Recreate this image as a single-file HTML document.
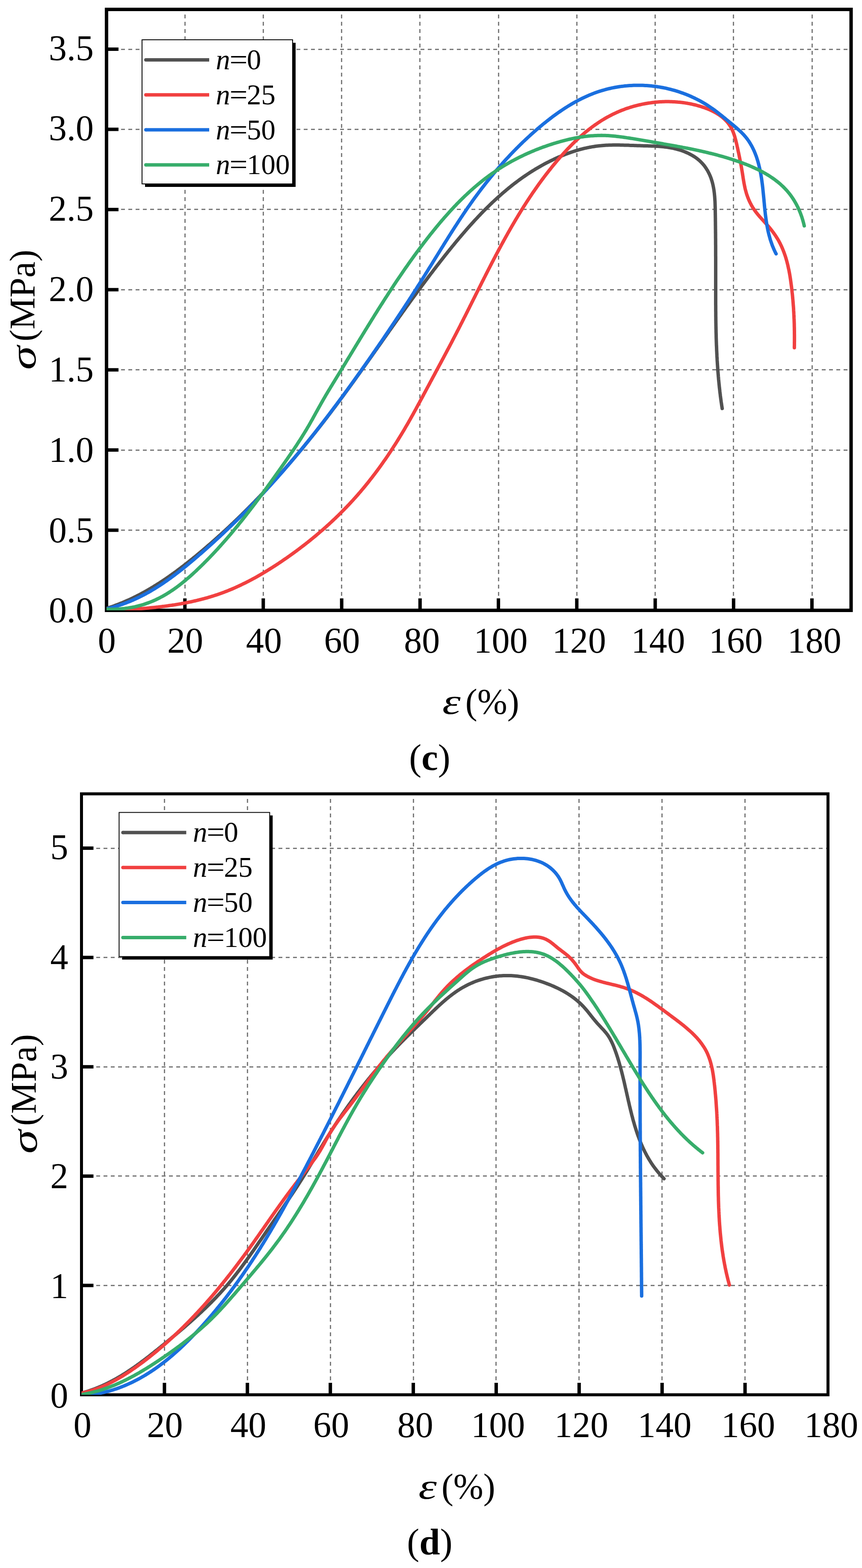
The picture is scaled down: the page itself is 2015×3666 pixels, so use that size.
<!DOCTYPE html>
<html><head><meta charset="utf-8"><title>Stress-strain curves (c) and (d)</title>
<style>html,body{margin:0;padding:0;background:#fff;}svg{display:block;}</style></head>
<body><svg width="2015" height="3666" viewBox="0 0 2015 3666">
<rect width="2015" height="3666" fill="#fff"/>
<g stroke="#7b7b7b" stroke-width="3" stroke-dasharray="9.1 7.99" fill="none" shape-rendering="crispEdges"><line x1="432.2" y1="1427.0" x2="432.2" y2="26.0"/><line x1="615.4" y1="1427.0" x2="615.4" y2="26.0"/><line x1="798.7" y1="1427.0" x2="798.7" y2="26.0"/><line x1="981.9" y1="1427.0" x2="981.9" y2="26.0"/><line x1="1165.1" y1="1427.0" x2="1165.1" y2="26.0"/><line x1="1348.3" y1="1427.0" x2="1348.3" y2="26.0"/><line x1="1531.6" y1="1427.0" x2="1531.6" y2="26.0"/><line x1="1714.8" y1="1427.0" x2="1714.8" y2="26.0"/><line x1="1898.0" y1="1427.0" x2="1898.0" y2="26.0"/></g>
<g stroke="#7b7b7b" stroke-width="3" stroke-dasharray="9.1 7.96" fill="none" shape-rendering="crispEdges"><line x1="249.0" y1="1239.6" x2="1985.5" y2="1239.6"/><line x1="249.0" y1="1052.1" x2="1985.5" y2="1052.1"/><line x1="249.0" y1="864.7" x2="1985.5" y2="864.7"/><line x1="249.0" y1="677.3" x2="1985.5" y2="677.3"/><line x1="249.0" y1="489.9" x2="1985.5" y2="489.9"/><line x1="249.0" y1="302.4" x2="1985.5" y2="302.4"/><line x1="249.0" y1="115.0" x2="1985.5" y2="115.0"/></g>
<rect x="249.0" y="22.0" width="1740.5" height="1405.0" fill="none" stroke="#000" stroke-width="8.0"/>
<g stroke="#000" stroke-width="8"><line x1="432.2" y1="1427.0" x2="432.2" y2="1399.0"/><line x1="615.4" y1="1427.0" x2="615.4" y2="1399.0"/><line x1="798.7" y1="1427.0" x2="798.7" y2="1399.0"/><line x1="981.9" y1="1427.0" x2="981.9" y2="1399.0"/><line x1="1165.1" y1="1427.0" x2="1165.1" y2="1399.0"/><line x1="1348.3" y1="1427.0" x2="1348.3" y2="1399.0"/><line x1="1531.6" y1="1427.0" x2="1531.6" y2="1399.0"/><line x1="1714.8" y1="1427.0" x2="1714.8" y2="1399.0"/><line x1="1898.0" y1="1427.0" x2="1898.0" y2="1399.0"/><line x1="249.0" y1="1239.6" x2="277.0" y2="1239.6"/><line x1="249.0" y1="1052.1" x2="277.0" y2="1052.1"/><line x1="249.0" y1="864.7" x2="277.0" y2="864.7"/><line x1="249.0" y1="677.3" x2="277.0" y2="677.3"/><line x1="249.0" y1="489.9" x2="277.0" y2="489.9"/><line x1="249.0" y1="302.4" x2="277.0" y2="302.4"/><line x1="249.0" y1="115.0" x2="277.0" y2="115.0"/></g>
<clipPath id="clipc"><rect x="249.0" y="22.0" width="1740.5" height="1405.0"/></clipPath>
<g clip-path="url(#clipc)" fill="none" stroke-width="8.0" stroke-linejoin="round" stroke-linecap="round">
<path d="M249.1,1422.4 252.0,1421.5 254.8,1420.6 257.7,1419.6 260.5,1418.7 263.4,1417.7 266.2,1416.7 269.0,1415.6 271.8,1414.6 274.7,1413.5 277.5,1412.4 280.3,1411.3 283.0,1410.2 285.8,1409.1 288.6,1407.9 291.4,1406.7 294.1,1405.5 296.9,1404.3 299.6,1403.1 302.4,1401.8 305.1,1400.6 307.8,1399.3 310.5,1398.0 313.2,1396.7 315.9,1395.3 318.6,1394.0 321.3,1392.6 324.0,1391.3 326.6,1389.9 329.3,1388.5 331.9,1387.0 334.6,1385.6 337.2,1384.2 339.8,1382.7 342.5,1381.2 345.1,1379.7 347.7,1378.2 350.3,1376.7 352.9,1375.2 355.4,1373.6 358.0,1372.1 360.6,1370.5 363.1,1368.9 365.7,1367.3 368.2,1365.7 370.8,1364.1 373.3,1362.5 375.8,1360.8 378.3,1359.2 380.8,1357.5 383.3,1355.9 385.8,1354.2 388.3,1352.5 390.8,1350.8 393.3,1349.1 395.7,1347.4 398.2,1345.6 400.6,1343.9 403.1,1342.1 405.5,1340.4 408.0,1338.6 410.4,1336.9 412.8,1335.1 415.2,1333.3 417.6,1331.5 420.0,1329.7 422.4,1327.9 424.8,1326.0 427.2,1324.2 429.6,1322.4 432.0,1320.5 434.3,1318.7 436.7,1316.8 439.1,1315.0 441.4,1313.1 443.8,1311.2 446.1,1309.3 448.5,1307.5 450.8,1305.6 453.1,1303.7 455.5,1301.8 457.8,1299.9 460.1,1297.9 462.4,1296.0 464.7,1294.1 467.1,1292.2 469.4,1290.2 471.7,1288.3 474.0,1286.4 476.2,1284.4 478.5,1282.5 480.8,1280.5 483.1,1278.6 485.4,1276.6 487.7,1274.6 489.9,1272.7 492.2,1270.7 494.5,1268.7 496.7,1266.7 499.0,1264.7 501.2,1262.8 503.5,1260.8 505.7,1258.8 508.0,1256.8 510.2,1254.7 512.4,1252.7 514.7,1250.7 516.9,1248.7 519.1,1246.7 521.3,1244.6 523.6,1242.6 525.8,1240.6 528.0,1238.5 530.2,1236.5 532.4,1234.4 534.6,1232.4 536.8,1230.3 539.0,1228.3 541.1,1226.2 543.3,1224.1 545.5,1222.1 547.7,1220.0 549.9,1217.9 552.0,1215.8 554.2,1213.7 556.4,1211.7 558.5,1209.6 560.7,1207.5 562.8,1205.4 565.0,1203.3 567.1,1201.1 569.2,1199.0 571.4,1196.9 573.5,1194.8 575.6,1192.7 577.8,1190.5 579.9,1188.4 582.0,1186.3 584.1,1184.1 586.2,1182.0 588.3,1179.9 590.5,1177.7 592.6,1175.6 594.7,1173.4 596.7,1171.3 598.8,1169.1 600.9,1166.9 603.0,1164.8 605.1,1162.6 607.2,1160.4 609.2,1158.2 611.3,1156.1 613.4,1153.9 615.4,1151.7 617.5,1149.5 619.6,1147.3 621.6,1145.1 623.7,1142.9 625.7,1140.7 627.8,1138.5 629.8,1136.3 631.8,1134.1 633.9,1131.9 635.9,1129.7 637.9,1127.4 640.0,1125.2 642.0,1123.0 644.0,1120.8 646.0,1118.5 648.0,1116.3 650.0,1114.0 652.0,1111.8 654.0,1109.6 656.0,1107.3 658.0,1105.1 660.0,1102.8 662.0,1100.6 664.0,1098.3 666.0,1096.0 667.9,1093.8 669.9,1091.5 671.9,1089.2 673.9,1087.0 675.8,1084.7 677.8,1082.4 679.8,1080.1 681.7,1077.8 683.7,1075.6 685.6,1073.3 687.6,1071.0 689.5,1068.7 691.4,1066.4 693.4,1064.1 695.3,1061.8 697.3,1059.5 699.2,1057.2 701.1,1054.9 703.0,1052.6 705.0,1050.3 706.9,1047.9 708.8,1045.6 710.7,1043.3 712.6,1041.0 714.5,1038.6 716.4,1036.3 718.3,1034.0 720.2,1031.7 722.1,1029.3 724.0,1027.0 725.9,1024.6 727.8,1022.3 729.7,1020.0 731.5,1017.6 733.4,1015.3 735.3,1012.9 737.2,1010.6 739.0,1008.2 740.9,1005.8 742.8,1003.5 744.6,1001.1 746.5,998.8 748.3,996.4 750.2,994.0 752.0,991.6 753.9,989.3 755.7,986.9 757.6,984.5 759.4,982.1 761.2,979.8 763.1,977.4 764.9,975.0 766.7,972.6 768.5,970.2 770.4,967.8 772.2,965.4 774.0,963.0 775.8,960.6 777.6,958.2 779.4,955.8 781.2,953.4 783.1,951.0 784.9,948.6 786.7,946.2 788.5,943.8 790.2,941.4 792.0,939.0 793.8,936.6 795.6,934.1 797.4,931.7 799.2,929.3 801.0,926.9 802.8,924.5 804.5,922.0 806.3,919.6 808.1,917.2 809.9,914.8 811.6,912.3 813.4,909.9 815.2,907.5 816.9,905.0 818.7,902.6 820.5,900.2 822.2,897.7 824.0,895.3 825.8,892.9 827.5,890.4 829.3,888.0 831.0,885.5 832.8,883.1 834.5,880.6 836.3,878.2 838.0,875.8 839.8,873.3 841.5,870.9 843.3,868.4 845.0,866.0 846.8,863.5 848.5,861.1 850.2,858.6 852.0,856.2 853.7,853.7 855.5,851.3 857.2,848.8 858.9,846.4 860.7,843.9 862.4,841.4 864.2,839.0 865.9,836.5 867.6,834.1 869.4,831.6 871.1,829.2 872.8,826.7 874.6,824.3 876.3,821.8 878.0,819.3 879.8,816.9 881.5,814.4 883.2,812.0 885.0,809.5 886.7,807.1 888.4,804.6 890.2,802.1 891.9,799.7 893.6,797.2 895.3,794.8 897.1,792.3 898.8,789.8 900.5,787.4 902.3,784.9 904.0,782.5 905.7,780.0 907.5,777.6 909.2,775.1 910.9,772.6 912.7,770.2 914.4,767.7 916.2,765.3 917.9,762.8 919.6,760.4 921.4,757.9 923.1,755.5 924.8,753.0 926.6,750.6 928.3,748.1 930.1,745.7 931.8,743.2 933.5,740.8 935.3,738.3 937.0,735.9 938.8,733.4 940.5,731.0 942.3,728.5 944.0,726.1 945.8,723.6 947.5,721.2 949.3,718.7 951.0,716.3 952.8,713.9 954.6,711.4 956.3,709.0 958.1,706.5 959.8,704.1 961.6,701.7 963.4,699.2 965.1,696.8 966.9,694.4 968.7,691.9 970.5,689.5 972.2,687.1 974.0,684.7 975.8,682.2 977.6,679.8 979.3,677.4 981.1,675.0 982.9,672.6 984.7,670.1 986.5,667.7 988.3,665.3 990.1,662.9 991.9,660.5 993.7,658.1 995.5,655.7 997.3,653.3 999.1,650.9 1000.9,648.4 1002.7,646.0 1004.5,643.6 1006.3,641.2 1008.1,638.9 1010.0,636.5 1011.8,634.1 1013.6,631.7 1015.4,629.3 1017.3,626.9 1019.1,624.5 1020.9,622.1 1022.8,619.8 1024.6,617.4 1026.5,615.0 1028.3,612.6 1030.2,610.3 1032.0,607.9 1033.9,605.5 1035.7,603.2 1037.6,600.8 1039.4,598.5 1041.3,596.1 1043.2,593.7 1045.1,591.4 1046.9,589.0 1048.8,586.7 1050.7,584.4 1052.6,582.0 1054.5,579.7 1056.4,577.3 1058.3,575.0 1060.2,572.7 1062.1,570.4 1064.0,568.0 1065.9,565.7 1067.8,563.4 1069.8,561.1 1071.7,558.8 1073.6,556.5 1075.6,554.2 1077.5,551.9 1079.4,549.6 1081.4,547.3 1083.4,545.0 1085.3,542.8 1087.3,540.5 1089.3,538.2 1091.2,535.9 1093.2,533.7 1095.2,531.4 1097.2,529.2 1099.2,526.9 1101.2,524.7 1103.2,522.5 1105.3,520.2 1107.3,518.0 1109.3,515.8 1111.4,513.6 1113.4,511.4 1115.5,509.2 1117.5,507.0 1119.6,504.8 1121.7,502.7 1123.7,500.5 1125.8,498.3 1127.9,496.2 1130.0,494.0 1132.1,491.9 1134.3,489.7 1136.4,487.6 1138.5,485.5 1140.7,483.4 1142.8,481.3 1145.0,479.2 1147.1,477.1 1149.3,475.0 1151.5,472.9 1153.7,470.9 1155.9,468.8 1158.1,466.8 1160.3,464.7 1162.5,462.7 1164.7,460.7 1167.0,458.7 1169.2,456.7 1171.5,454.7 1173.7,452.7 1176.0,450.8 1178.3,448.8 1180.6,446.9 1182.9,444.9 1185.2,443.0 1187.5,441.1 1189.8,439.2 1192.2,437.3 1194.5,435.4 1196.9,433.5 1199.2,431.7 1201.6,429.8 1204.0,428.0 1206.4,426.2 1208.8,424.4 1211.2,422.6 1213.6,420.8 1216.1,419.0 1218.5,417.3 1221.0,415.5 1223.4,413.8 1225.9,412.1 1228.4,410.4 1230.9,408.7 1233.4,407.0 1235.9,405.4 1238.4,403.7 1240.9,402.1 1243.5,400.5 1246.0,398.9 1248.6,397.3 1251.1,395.8 1253.7,394.2 1256.3,392.7 1258.9,391.2 1261.5,389.7 1264.1,388.2 1266.7,386.7 1269.4,385.3 1272.0,383.8 1274.7,382.4 1277.3,381.0 1280.0,379.6 1282.7,378.3 1285.4,376.9 1288.1,375.6 1290.8,374.3 1293.5,373.0 1296.2,371.7 1298.9,370.5 1301.7,369.2 1304.4,368.0 1307.2,366.8 1310.0,365.6 1312.7,364.5 1315.5,363.3 1318.3,362.2 1321.1,361.1 1323.9,360.0 1326.7,359.0 1329.5,357.9 1332.4,356.9 1335.2,355.9 1338.1,355.0 1340.9,354.0 1343.8,353.1 1346.7,352.2 1349.5,351.4 1352.4,350.5 1355.3,349.7 1358.2,348.9 1361.1,348.2 1364.0,347.4 1367.0,346.7 1369.9,346.1 1372.8,345.4 1375.8,344.8 1378.7,344.2 1381.7,343.7 1384.6,343.1 1387.6,342.7 1390.6,342.2 1393.6,341.8 1396.5,341.4 1399.5,341.1 1402.5,340.7 1405.5,340.5 1408.5,340.2 1411.5,340.0 1414.5,339.8 1417.5,339.6 1420.5,339.5 1423.5,339.3 1426.5,339.2 1429.5,339.2 1432.5,339.1 1435.5,339.1 1438.6,339.1 1441.6,339.1 1444.6,339.1 1447.6,339.1 1450.6,339.2 1453.6,339.2 1456.6,339.3 1459.6,339.4 1462.6,339.4 1465.6,339.5 1468.6,339.6 1471.6,339.8 1474.6,339.9 1477.6,340.0 1480.6,340.1 1483.6,340.2 1486.6,340.3 1489.6,340.4 1492.7,340.5 1495.7,340.6 1498.7,340.7 1501.7,340.8 1504.7,340.9 1507.7,341.0 1510.7,341.1 1513.7,341.1 1516.7,341.2 1519.7,341.3 1522.7,341.4 1525.7,341.5 1528.7,341.6 1531.7,341.8 1534.7,341.9 1537.7,342.1 1540.7,342.3 1543.7,342.5 1546.7,342.8 1549.7,343.0 1552.7,343.4 1555.7,343.7 1558.7,344.1 1561.6,344.5 1564.6,345.0 1567.6,345.5 1570.5,346.1 1573.5,346.7 1576.4,347.3 1579.3,348.0 1582.3,348.8 1585.1,349.6 1588.0,350.4 1590.9,351.3 1593.8,352.3 1596.6,353.3 1599.4,354.4 1602.2,355.5 1605.0,356.7 1607.7,357.9 1610.4,359.2 1613.1,360.6 1615.7,362.0 1618.4,363.5 1620.9,365.0 1623.5,366.6 1625.9,368.3 1628.4,370.1 1630.8,371.9 1633.1,373.8 1635.4,375.8 1637.6,377.9 1639.7,380.0 1641.8,382.2 1643.7,384.4 1645.7,386.7 1647.5,389.1 1649.2,391.6 1650.9,394.1 1652.5,396.6 1654.1,399.2 1655.5,401.8 1656.9,404.5 1658.2,407.2 1659.4,409.9 1660.6,412.7 1661.7,415.5 1662.7,418.4 1663.6,421.2 1664.5,424.1 1665.3,427.0 1666.0,429.9 1666.7,432.8 1667.3,435.8 1667.9,438.7 1668.4,441.7 1668.9,444.7 1669.3,447.6 1669.7,450.6 1670.0,453.6 1670.3,456.6 1670.6,459.6 1670.8,462.6 1671.0,465.6 1671.2,468.6 1671.4,471.6 1671.5,474.6 1671.6,477.6 1671.7,480.6 1671.8,483.6 1671.9,486.6 1671.9,489.6 1672.0,492.6 1672.0,495.6 1672.1,498.6 1672.1,501.7 1672.2,504.7 1672.2,507.7 1672.3,510.7 1672.3,513.7 1672.3,516.7 1672.4,519.7 1672.4,522.7 1672.4,525.7 1672.5,528.7 1672.5,531.7 1672.5,534.7 1672.6,537.7 1672.6,540.7 1672.6,543.7 1672.7,546.8 1672.7,549.8 1672.7,552.8 1672.7,555.8 1672.8,558.8 1672.8,561.8 1672.8,564.8 1672.8,567.8 1672.8,570.8 1672.9,573.8 1672.9,576.8 1672.9,579.8 1672.9,582.8 1672.9,585.8 1672.9,588.8 1672.9,591.9 1672.9,594.9 1672.9,597.9 1673.0,600.9 1673.0,603.9 1673.0,606.9 1673.0,609.9 1673.0,612.9 1673.0,615.9 1673.0,618.9 1673.0,621.9 1673.0,624.9 1673.0,627.9 1673.0,630.9 1673.0,633.9 1673.0,637.0 1673.0,640.0 1673.0,643.0 1673.0,646.0 1673.0,649.0 1673.0,652.0 1673.0,655.0 1673.0,658.0 1673.0,661.0 1673.0,664.0 1673.0,667.0 1673.0,670.0 1673.0,673.0 1673.0,676.0 1673.0,679.1 1673.0,682.1 1673.0,685.1 1673.0,688.1 1673.0,691.1 1673.0,694.1 1673.0,697.1 1673.0,700.1 1673.0,703.1 1673.0,706.1 1673.0,709.1 1673.0,712.1 1673.1,715.1 1673.1,718.1 1673.1,721.1 1673.1,724.2 1673.1,727.2 1673.2,730.2 1673.2,733.2 1673.2,736.2 1673.2,739.2 1673.3,742.2 1673.3,745.2 1673.3,748.2 1673.4,751.2 1673.4,754.2 1673.5,757.2 1673.5,760.2 1673.6,763.2 1673.6,766.2 1673.7,769.3 1673.8,772.3 1673.8,775.3 1673.9,778.3 1674.0,781.3 1674.1,784.3 1674.1,787.3 1674.2,790.3 1674.3,793.3 1674.4,796.3 1674.5,799.3 1674.6,802.3 1674.7,805.3 1674.8,808.3 1675.0,811.3 1675.1,814.3 1675.2,817.3 1675.3,820.3 1675.5,823.3 1675.6,826.3 1675.8,829.4 1675.9,832.4 1676.1,835.4 1676.3,838.4 1676.4,841.4 1676.6,844.4 1676.8,847.4 1677.0,850.4 1677.2,853.4 1677.4,856.4 1677.6,859.4 1677.8,862.4 1678.0,865.4 1678.2,868.4 1678.5,871.4 1678.7,874.4 1679.0,877.4 1679.2,880.3 1679.5,883.3 1679.7,886.3 1680.0,889.3 1680.3,892.3 1680.6,895.3 1680.9,898.3 1681.2,901.3 1681.5,904.3 1681.8,907.3 1682.2,910.3 1682.5,913.3 1682.8,916.2 1683.2,919.2 1683.6,922.2 1683.9,925.2 1684.3,928.2 1684.7,931.2 1685.1,934.1 1685.5,937.1 1685.9,940.1 1686.4,943.1 1686.8,946.1 1687.2,949.0 1687.7,952.0 1688.2,955.0" stroke="#515151"/>
<path d="M249.3,1427.8 252.3,1427.6 255.3,1427.5 258.3,1427.4 261.3,1427.2 264.3,1427.1 267.3,1426.9 270.3,1426.8 273.3,1426.6 276.3,1426.5 279.3,1426.3 282.3,1426.2 285.3,1426.0 288.3,1425.8 291.3,1425.7 294.3,1425.5 297.3,1425.3 300.3,1425.1 303.3,1424.9 306.3,1424.7 309.3,1424.5 312.3,1424.3 315.3,1424.1 318.3,1423.9 321.3,1423.7 324.3,1423.5 327.3,1423.2 330.3,1423.0 333.3,1422.8 336.3,1422.5 339.3,1422.2 342.3,1422.0 345.3,1421.7 348.3,1421.4 351.3,1421.1 354.3,1420.8 357.3,1420.5 360.3,1420.2 363.2,1419.9 366.2,1419.6 369.2,1419.3 372.2,1418.9 375.2,1418.6 378.2,1418.2 381.2,1417.8 384.1,1417.5 387.1,1417.1 390.1,1416.7 393.1,1416.3 396.1,1415.8 399.0,1415.4 402.0,1415.0 405.0,1414.5 408.0,1414.1 410.9,1413.6 413.9,1413.1 416.9,1412.6 419.8,1412.1 422.8,1411.6 425.7,1411.0 428.7,1410.5 431.6,1409.9 434.6,1409.4 437.5,1408.8 440.5,1408.2 443.4,1407.6 446.4,1407.0 449.3,1406.3 452.2,1405.7 455.2,1405.0 458.1,1404.3 461.0,1403.7 464.0,1402.9 466.9,1402.2 469.8,1401.5 472.7,1400.7 475.6,1400.0 478.5,1399.2 481.4,1398.4 484.3,1397.6 487.2,1396.7 490.1,1395.9 492.9,1395.0 495.8,1394.1 498.7,1393.2 501.6,1392.3 504.4,1391.4 507.3,1390.5 510.1,1389.5 512.9,1388.5 515.8,1387.5 518.6,1386.5 521.4,1385.4 524.2,1384.4 527.0,1383.3 529.9,1382.2 532.6,1381.1 535.4,1380.0 538.2,1378.8 541.0,1377.7 543.8,1376.5 546.5,1375.3 549.3,1374.1 552.0,1372.9 554.7,1371.6 557.5,1370.4 560.2,1369.1 562.9,1367.8 565.6,1366.5 568.3,1365.2 571.0,1363.9 573.7,1362.6 576.4,1361.2 579.1,1359.8 581.8,1358.5 584.4,1357.1 587.1,1355.7 589.7,1354.3 592.4,1352.8 595.0,1351.4 597.7,1349.9 600.3,1348.5 602.9,1347.0 605.5,1345.5 608.1,1344.0 610.7,1342.5 613.3,1341.0 615.9,1339.4 618.5,1337.9 621.0,1336.3 623.6,1334.8 626.2,1333.2 628.7,1331.6 631.3,1330.0 633.8,1328.4 636.4,1326.8 638.9,1325.2 641.4,1323.6 644.0,1322.0 646.5,1320.3 649.0,1318.7 651.5,1317.0 654.0,1315.3 656.5,1313.7 659.0,1312.0 661.5,1310.3 663.9,1308.6 666.4,1306.9 668.9,1305.2 671.4,1303.5 673.8,1301.7 676.3,1300.0 678.7,1298.3 681.2,1296.5 683.6,1294.8 686.0,1293.0 688.5,1291.2 690.9,1289.4 693.3,1287.7 695.7,1285.9 698.1,1284.1 700.5,1282.3 702.9,1280.4 705.3,1278.6 707.7,1276.8 710.1,1275.0 712.5,1273.1 714.8,1271.3 717.2,1269.4 719.6,1267.6 721.9,1265.7 724.3,1263.8 726.6,1261.9 728.9,1260.0 731.3,1258.1 733.6,1256.2 735.9,1254.3 738.2,1252.4 740.5,1250.4 742.8,1248.5 745.1,1246.6 747.4,1244.6 749.7,1242.6 751.9,1240.7 754.2,1238.7 756.5,1236.7 758.7,1234.7 761.0,1232.7 763.2,1230.7 765.4,1228.7 767.7,1226.7 769.9,1224.7 772.1,1222.6 774.3,1220.6 776.5,1218.5 778.7,1216.5 780.9,1214.4 783.1,1212.4 785.2,1210.3 787.4,1208.2 789.6,1206.1 791.7,1204.0 793.8,1201.9 796.0,1199.8 798.1,1197.6 800.2,1195.5 802.3,1193.4 804.5,1191.2 806.5,1189.1 808.6,1186.9 810.7,1184.8 812.8,1182.6 814.9,1180.4 816.9,1178.2 819.0,1176.0 821.0,1173.8 823.1,1171.6 825.1,1169.4 827.1,1167.1 829.1,1164.9 831.1,1162.7 833.1,1160.4 835.1,1158.2 837.1,1155.9 839.0,1153.6 841.0,1151.4 843.0,1149.1 844.9,1146.8 846.8,1144.5 848.8,1142.2 850.7,1139.9 852.6,1137.6 854.5,1135.2 856.4,1132.9 858.3,1130.6 860.2,1128.2 862.1,1125.9 863.9,1123.5 865.8,1121.1 867.6,1118.8 869.5,1116.4 871.3,1114.0 873.1,1111.6 875.0,1109.2 876.8,1106.8 878.6,1104.4 880.4,1102.0 882.2,1099.6 883.9,1097.2 885.7,1094.8 887.5,1092.3 889.3,1089.9 891.0,1087.5 892.7,1085.0 894.5,1082.6 896.2,1080.1 897.9,1077.6 899.7,1075.2 901.4,1072.7 903.1,1070.2 904.8,1067.7 906.5,1065.3 908.1,1062.8 909.8,1060.3 911.5,1057.8 913.1,1055.3 914.8,1052.7 916.4,1050.2 918.1,1047.7 919.7,1045.2 921.3,1042.7 923.0,1040.1 924.6,1037.6 926.2,1035.1 927.8,1032.5 929.4,1030.0 931.0,1027.4 932.5,1024.9 934.1,1022.3 935.7,1019.7 937.3,1017.2 938.8,1014.6 940.4,1012.0 941.9,1009.4 943.5,1006.9 945.0,1004.3 946.5,1001.7 948.0,999.1 949.5,996.5 951.1,993.9 952.6,991.3 954.1,988.7 955.6,986.1 957.0,983.5 958.5,980.9 960.0,978.2 961.5,975.6 962.9,973.0 964.4,970.4 965.9,967.7 967.3,965.1 968.8,962.5 970.2,959.8 971.7,957.2 973.1,954.6 974.5,951.9 976.0,949.3 977.4,946.6 978.8,944.0 980.3,941.4 981.7,938.7 983.1,936.1 984.5,933.4 986.0,930.8 987.4,928.1 988.8,925.5 990.2,922.8 991.6,920.2 993.1,917.5 994.5,914.9 995.9,912.2 997.3,909.6 998.7,906.9 1000.1,904.3 1001.6,901.6 1003.0,899.0 1004.4,896.3 1005.8,893.7 1007.2,891.0 1008.7,888.4 1010.1,885.7 1011.5,883.1 1012.9,880.4 1014.4,877.8 1015.8,875.1 1017.2,872.5 1018.6,869.8 1020.0,867.2 1021.5,864.5 1022.9,861.9 1024.3,859.2 1025.7,856.6 1027.1,853.9 1028.6,851.3 1030.0,848.6 1031.4,846.0 1032.8,843.3 1034.2,840.7 1035.7,838.0 1037.1,835.4 1038.5,832.7 1039.9,830.1 1041.3,827.4 1042.7,824.8 1044.1,822.1 1045.5,819.5 1046.9,816.8 1048.4,814.1 1049.8,811.5 1051.2,808.8 1052.6,806.2 1054.0,803.5 1055.4,800.8 1056.8,798.2 1058.1,795.5 1059.5,792.9 1060.9,790.2 1062.3,787.5 1063.7,784.9 1065.1,782.2 1066.5,779.5 1067.8,776.9 1069.2,774.2 1070.6,771.5 1072.0,768.8 1073.3,766.2 1074.7,763.5 1076.1,760.8 1077.4,758.1 1078.8,755.4 1080.2,752.8 1081.5,750.1 1082.9,747.4 1084.2,744.7 1085.6,742.0 1087.0,739.4 1088.3,736.7 1089.7,734.0 1091.0,731.3 1092.4,728.6 1093.7,725.9 1095.1,723.2 1096.4,720.6 1097.7,717.9 1099.1,715.2 1100.4,712.5 1101.8,709.8 1103.1,707.1 1104.5,704.4 1105.8,701.7 1107.2,699.0 1108.5,696.4 1109.9,693.7 1111.2,691.0 1112.5,688.3 1113.9,685.6 1115.2,682.9 1116.6,680.2 1117.9,677.5 1119.3,674.9 1120.6,672.2 1122.0,669.5 1123.3,666.8 1124.7,664.1 1126.0,661.4 1127.4,658.7 1128.7,656.1 1130.1,653.4 1131.4,650.7 1132.8,648.0 1134.2,645.3 1135.5,642.6 1136.9,640.0 1138.2,637.3 1139.6,634.6 1141.0,631.9 1142.3,629.3 1143.7,626.6 1145.1,623.9 1146.5,621.2 1147.8,618.6 1149.2,615.9 1150.6,613.2 1152.0,610.6 1153.4,607.9 1154.8,605.2 1156.2,602.6 1157.6,599.9 1159.0,597.2 1160.4,594.6 1161.8,591.9 1163.2,589.3 1164.6,586.6 1166.0,584.0 1167.4,581.3 1168.9,578.7 1170.3,576.0 1171.7,573.4 1173.1,570.7 1174.6,568.1 1176.0,565.5 1177.5,562.8 1178.9,560.2 1180.4,557.6 1181.8,554.9 1183.3,552.3 1184.8,549.7 1186.2,547.1 1187.7,544.4 1189.2,541.8 1190.7,539.2 1192.2,536.6 1193.6,534.0 1195.1,531.4 1196.6,528.8 1198.2,526.2 1199.7,523.6 1201.2,521.0 1202.7,518.4 1204.2,515.8 1205.8,513.2 1207.3,510.6 1208.9,508.1 1210.4,505.5 1212.0,502.9 1213.5,500.4 1215.1,497.8 1216.7,495.2 1218.3,492.7 1219.8,490.1 1221.4,487.6 1223.0,485.0 1224.6,482.5 1226.3,479.9 1227.9,477.4 1229.5,474.9 1231.1,472.4 1232.8,469.8 1234.4,467.3 1236.1,464.8 1237.7,462.3 1239.4,459.8 1241.1,457.3 1242.7,454.8 1244.4,452.3 1246.1,449.8 1247.8,447.4 1249.5,444.9 1251.2,442.4 1253.0,440.0 1254.7,437.5 1256.4,435.0 1258.2,432.6 1259.9,430.1 1261.7,427.7 1263.4,425.3 1265.2,422.9 1267.0,420.4 1268.8,418.0 1270.6,415.6 1272.4,413.2 1274.2,410.8 1276.0,408.4 1277.9,406.0 1279.7,403.7 1281.6,401.3 1283.4,398.9 1285.3,396.6 1287.2,394.2 1289.0,391.9 1290.9,389.5 1292.8,387.2 1294.7,384.9 1296.6,382.6 1298.6,380.3 1300.5,378.0 1302.4,375.7 1304.4,373.4 1306.4,371.1 1308.3,368.8 1310.3,366.6 1312.3,364.3 1314.3,362.1 1316.3,359.8 1318.3,357.6 1320.3,355.4 1322.4,353.2 1324.4,351.0 1326.5,348.8 1328.6,346.6 1330.7,344.4 1332.7,342.3 1334.9,340.1 1337.0,338.0 1339.1,335.9 1341.3,333.8 1343.4,331.7 1345.6,329.6 1347.8,327.6 1350.0,325.5 1352.2,323.5 1354.4,321.4 1356.6,319.4 1358.9,317.4 1361.1,315.5 1363.4,313.5 1365.7,311.6 1368.0,309.6 1370.3,307.7 1372.7,305.8 1375.0,304.0 1377.4,302.1 1379.8,300.3 1382.2,298.4 1384.6,296.6 1387.0,294.9 1389.4,293.1 1391.9,291.4 1394.4,289.7 1396.9,288.0 1399.4,286.3 1401.9,284.7 1404.4,283.0 1406.9,281.4 1409.5,279.9 1412.1,278.3 1414.7,276.8 1417.3,275.3 1419.9,273.8 1422.5,272.4 1425.2,271.0 1427.9,269.6 1430.5,268.2 1433.2,266.9 1435.9,265.6 1438.7,264.3 1441.4,263.0 1444.1,261.8 1446.9,260.6 1449.7,259.5 1452.5,258.3 1455.3,257.2 1458.1,256.2 1460.9,255.1 1463.7,254.1 1466.6,253.1 1469.4,252.2 1472.3,251.3 1475.1,250.4 1478.0,249.5 1480.9,248.7 1483.8,247.9 1486.7,247.1 1489.6,246.4 1492.5,245.7 1495.5,245.0 1498.4,244.3 1501.3,243.7 1504.3,243.1 1507.2,242.5 1510.2,242.0 1513.2,241.5 1516.1,241.0 1519.1,240.6 1522.1,240.2 1525.1,239.8 1528.0,239.4 1531.0,239.1 1534.0,238.8 1537.0,238.6 1540.0,238.3 1543.0,238.1 1546.0,238.0 1549.0,237.8 1552.0,237.7 1555.0,237.6 1558.0,237.6 1561.0,237.6 1564.0,237.6 1567.1,237.7 1570.1,237.7 1573.1,237.9 1576.1,238.0 1579.1,238.2 1582.1,238.4 1585.1,238.7 1588.1,238.9 1591.0,239.3 1594.0,239.6 1597.0,240.0 1600.0,240.4 1603.0,240.9 1605.9,241.3 1608.9,241.9 1611.8,242.4 1614.8,243.0 1617.7,243.6 1620.7,244.3 1623.6,245.0 1626.5,245.7 1629.4,246.5 1632.3,247.3 1635.2,248.1 1638.1,249.0 1640.9,249.9 1643.8,250.9 1646.6,251.8 1649.4,252.9 1652.3,253.9 1655.1,255.0 1657.8,256.2 1660.6,257.4 1663.3,258.7 1666.0,260.0 1668.7,261.3 1671.3,262.7 1674.0,264.2 1676.6,265.8 1679.1,267.4 1681.6,269.0 1684.1,270.8 1686.5,272.6 1688.8,274.4 1691.1,276.4 1693.3,278.4 1695.5,280.5 1697.6,282.7 1699.6,284.9 1701.5,287.2 1703.3,289.6 1705.1,292.0 1706.7,294.5 1708.3,297.1 1709.7,299.8 1711.1,302.4 1712.3,305.2 1713.5,307.9 1714.6,310.7 1715.6,313.6 1716.6,316.4 1717.5,319.3 1718.3,322.2 1719.1,325.1 1719.9,328.0 1720.6,330.9 1721.3,333.8 1722.0,336.7 1722.7,339.7 1723.3,342.6 1724.0,345.5 1724.6,348.5 1725.2,351.4 1725.8,354.4 1726.5,357.3 1727.1,360.2 1727.7,363.2 1728.3,366.1 1728.9,369.1 1729.5,372.0 1730.1,375.0 1730.7,377.9 1731.3,380.9 1731.8,383.8 1732.4,386.8 1732.9,389.7 1733.4,392.7 1733.9,395.6 1734.4,398.6 1734.9,401.6 1735.4,404.6 1735.8,407.5 1736.3,410.5 1736.8,413.5 1737.2,416.4 1737.7,419.4 1738.2,422.4 1738.7,425.3 1739.2,428.3 1739.8,431.2 1740.4,434.2 1741.0,437.1 1741.6,440.1 1742.3,443.0 1743.1,445.9 1743.9,448.8 1744.7,451.7 1745.6,454.6 1746.6,457.4 1747.6,460.2 1748.7,463.0 1749.8,465.8 1751.0,468.6 1752.2,471.3 1753.5,474.0 1754.9,476.7 1756.3,479.4 1757.8,482.0 1759.3,484.6 1760.9,487.1 1762.6,489.6 1764.3,492.1 1766.1,494.5 1767.9,496.9 1769.8,499.3 1771.6,501.6 1773.6,503.9 1775.5,506.2 1777.5,508.4 1779.5,510.7 1781.5,512.9 1783.6,515.1 1785.6,517.4 1787.6,519.6 1789.6,521.8 1791.6,524.0 1793.6,526.3 1795.6,528.5 1797.6,530.8 1799.5,533.1 1801.4,535.5 1803.3,537.8 1805.1,540.2 1806.9,542.6 1808.7,545.0 1810.4,547.5 1812.1,549.9 1813.8,552.5 1815.4,555.0 1817.0,557.5 1818.6,560.1 1820.1,562.7 1821.5,565.4 1822.9,568.0 1824.3,570.7 1825.6,573.4 1826.9,576.1 1828.1,578.8 1829.3,581.6 1830.4,584.4 1831.5,587.2 1832.6,590.0 1833.6,592.8 1834.6,595.7 1835.6,598.5 1836.5,601.4 1837.4,604.3 1838.2,607.1 1839.0,610.0 1839.8,612.9 1840.5,615.9 1841.3,618.8 1841.9,621.7 1842.6,624.6 1843.2,627.6 1843.9,630.5 1844.5,633.5 1845.0,636.4 1845.6,639.4 1846.1,642.3 1846.6,645.3 1847.1,648.3 1847.5,651.2 1848.0,654.2 1848.4,657.2 1848.8,660.1 1849.2,663.1 1849.6,666.1 1850.0,669.1 1850.4,672.1 1850.7,675.1 1851.1,678.0 1851.4,681.0 1851.7,684.0 1852.1,687.0 1852.4,690.0 1852.7,693.0 1852.9,696.0 1853.2,699.0 1853.5,702.0 1853.7,705.0 1854.0,708.0 1854.2,711.0 1854.4,714.0 1854.7,717.0 1854.9,719.9 1855.1,722.9 1855.2,725.9 1855.4,728.9 1855.6,732.0 1855.7,735.0 1855.9,738.0 1856.0,741.0 1856.1,744.0 1856.3,747.0 1856.4,750.0 1856.5,753.0 1856.6,756.0 1856.7,759.0 1856.7,762.0 1856.8,765.0 1856.9,768.0 1856.9,771.0 1857.0,774.0 1857.0,777.0 1857.0,780.0 1857.1,783.0 1857.1,786.0 1857.1,789.0 1857.1,792.0 1857.1,795.0 1857.1,798.1 1857.0,801.1 1857.0,804.1 1857.0,807.1 1856.9,810.1 1856.9,813.1" stroke="#F14040"/>
<path d="M248.8,1423.4 251.8,1422.8 254.7,1422.1 257.6,1421.3 260.5,1420.6 263.4,1419.8 266.3,1419.0 269.2,1418.2 272.1,1417.3 274.9,1416.4 277.8,1415.5 280.7,1414.6 283.5,1413.6 286.4,1412.6 289.2,1411.6 292.0,1410.6 294.8,1409.5 297.6,1408.4 300.4,1407.3 303.2,1406.2 306.0,1405.0 308.7,1403.9 311.5,1402.7 314.2,1401.4 317.0,1400.2 319.7,1398.9 322.4,1397.6 325.1,1396.3 327.8,1395.0 330.5,1393.7 333.2,1392.3 335.9,1390.9 338.5,1389.5 341.2,1388.1 343.8,1386.6 346.4,1385.2 349.0,1383.7 351.6,1382.2 354.2,1380.7 356.8,1379.1 359.4,1377.6 362.0,1376.0 364.5,1374.4 367.1,1372.8 369.6,1371.2 372.1,1369.6 374.7,1368.0 377.2,1366.3 379.7,1364.7 382.2,1363.0 384.7,1361.3 387.1,1359.6 389.6,1357.9 392.1,1356.1 394.5,1354.4 396.9,1352.6 399.4,1350.9 401.8,1349.1 404.2,1347.3 406.6,1345.5 409.0,1343.7 411.4,1341.9 413.8,1340.1 416.2,1338.2 418.6,1336.4 421.0,1334.5 423.3,1332.7 425.7,1330.8 428.0,1328.9 430.4,1327.1 432.7,1325.2 435.0,1323.3 437.4,1321.4 439.7,1319.5 442.0,1317.5 444.3,1315.6 446.6,1313.7 448.9,1311.8 451.2,1309.8 453.5,1307.9 455.8,1305.9 458.1,1304.0 460.4,1302.0 462.6,1300.1 464.9,1298.1 467.2,1296.1 469.5,1294.2 471.7,1292.2 474.0,1290.2 476.2,1288.2 478.5,1286.2 480.8,1284.2 483.0,1282.2 485.2,1280.2 487.5,1278.2 489.7,1276.2 492.0,1274.2 494.2,1272.2 496.4,1270.2 498.7,1268.2 500.9,1266.2 503.1,1264.1 505.3,1262.1 507.5,1260.1 509.7,1258.0 512.0,1256.0 514.2,1254.0 516.4,1251.9 518.6,1249.9 520.8,1247.8 522.9,1245.7 525.1,1243.7 527.3,1241.6 529.5,1239.6 531.7,1237.5 533.9,1235.4 536.0,1233.3 538.2,1231.3 540.4,1229.2 542.5,1227.1 544.7,1225.0 546.8,1222.9 549.0,1220.8 551.2,1218.7 553.3,1216.6 555.4,1214.5 557.6,1212.4 559.7,1210.3 561.9,1208.1 564.0,1206.0 566.1,1203.9 568.2,1201.8 570.4,1199.6 572.5,1197.5 574.6,1195.4 576.7,1193.2 578.8,1191.1 580.9,1188.9 583.0,1186.8 585.1,1184.6 587.2,1182.5 589.3,1180.3 591.4,1178.2 593.5,1176.0 595.6,1173.8 597.6,1171.7 599.7,1169.5 601.8,1167.3 603.9,1165.1 605.9,1162.9 608.0,1160.8 610.0,1158.6 612.1,1156.4 614.2,1154.2 616.2,1152.0 618.2,1149.8 620.3,1147.6 622.3,1145.4 624.4,1143.2 626.4,1140.9 628.4,1138.7 630.5,1136.5 632.5,1134.3 634.5,1132.1 636.5,1129.8 638.5,1127.6 640.5,1125.4 642.5,1123.1 644.6,1120.9 646.6,1118.6 648.6,1116.4 650.5,1114.1 652.5,1111.9 654.5,1109.6 656.5,1107.4 658.5,1105.1 660.5,1102.9 662.4,1100.6 664.4,1098.3 666.4,1096.0 668.3,1093.8 670.3,1091.5 672.3,1089.2 674.2,1086.9 676.2,1084.6 678.1,1082.4 680.1,1080.1 682.0,1077.8 684.0,1075.5 685.9,1073.2 687.8,1070.9 689.8,1068.6 691.7,1066.3 693.6,1064.0 695.5,1061.6 697.5,1059.3 699.4,1057.0 701.3,1054.7 703.2,1052.4 705.1,1050.1 707.0,1047.7 708.9,1045.4 710.8,1043.1 712.7,1040.7 714.6,1038.4 716.5,1036.1 718.4,1033.7 720.3,1031.4 722.1,1029.0 724.0,1026.7 725.9,1024.4 727.8,1022.0 729.6,1019.6 731.5,1017.3 733.4,1014.9 735.2,1012.6 737.1,1010.2 739.0,1007.9 740.8,1005.5 742.7,1003.1 744.5,1000.8 746.4,998.4 748.2,996.0 750.1,993.6 751.9,991.3 753.7,988.9 755.6,986.5 757.4,984.1 759.2,981.7 761.1,979.4 762.9,977.0 764.7,974.6 766.5,972.2 768.4,969.8 770.2,967.4 772.0,965.0 773.8,962.6 775.6,960.2 777.4,957.8 779.2,955.4 781.0,953.0 782.8,950.6 784.6,948.2 786.4,945.8 788.2,943.4 790.0,941.0 791.8,938.5 793.6,936.1 795.4,933.7 797.2,931.3 799.0,928.9 800.8,926.4 802.5,924.0 804.3,921.6 806.1,919.2 807.9,916.7 809.6,914.3 811.4,911.9 813.2,909.5 814.9,907.0 816.7,904.6 818.5,902.2 820.2,899.7 822.0,897.3 823.7,894.8 825.5,892.4 827.2,890.0 829.0,887.5 830.7,885.1 832.5,882.6 834.2,880.2 836.0,877.7 837.7,875.3 839.5,872.8 841.2,870.4 843.0,867.9 844.7,865.5 846.4,863.0 848.2,860.6 849.9,858.1 851.6,855.7 853.4,853.2 855.1,850.7 856.8,848.3 858.5,845.8 860.3,843.4 862.0,840.9 863.7,838.4 865.4,836.0 867.2,833.5 868.9,831.0 870.6,828.6 872.3,826.1 874.0,823.6 875.7,821.2 877.4,818.7 879.1,816.2 880.9,813.7 882.6,811.3 884.3,808.8 886.0,806.3 887.7,803.8 889.4,801.4 891.1,798.9 892.8,796.4 894.5,793.9 896.2,791.4 897.9,788.9 899.5,786.5 901.2,784.0 902.9,781.5 904.6,779.0 906.3,776.5 908.0,774.0 909.7,771.5 911.3,769.0 913.0,766.5 914.7,764.0 916.4,761.5 918.0,759.0 919.7,756.6 921.4,754.1 923.1,751.6 924.7,749.1 926.4,746.6 928.1,744.0 929.7,741.5 931.4,739.0 933.0,736.5 934.7,734.0 936.4,731.5 938.0,729.0 939.7,726.5 941.3,724.0 943.0,721.5 944.6,719.0 946.3,716.4 947.9,713.9 949.5,711.4 951.2,708.9 952.8,706.4 954.5,703.9 956.1,701.3 957.7,698.8 959.4,696.3 961.0,693.8 962.6,691.2 964.3,688.7 965.9,686.2 967.5,683.7 969.1,681.1 970.8,678.6 972.4,676.1 974.0,673.5 975.6,671.0 977.2,668.5 978.8,665.9 980.5,663.4 982.1,660.8 983.7,658.3 985.3,655.8 986.9,653.2 988.5,650.7 990.1,648.1 991.7,645.6 993.3,643.0 994.9,640.5 996.5,637.9 998.1,635.4 999.7,632.8 1001.2,630.3 1002.8,627.7 1004.4,625.2 1006.0,622.6 1007.6,620.1 1009.2,617.5 1010.8,615.0 1012.3,612.4 1013.9,609.9 1015.5,607.3 1017.1,604.7 1018.7,602.2 1020.2,599.6 1021.8,597.1 1023.4,594.5 1025.0,591.9 1026.6,589.4 1028.1,586.8 1029.7,584.3 1031.3,581.7 1032.9,579.2 1034.5,576.6 1036.1,574.1 1037.6,571.5 1039.2,569.0 1040.8,566.4 1042.4,563.9 1044.0,561.3 1045.6,558.8 1047.2,556.2 1048.8,553.7 1050.4,551.1 1052.0,548.6 1053.6,546.0 1055.2,543.5 1056.8,541.0 1058.5,538.4 1060.1,535.9 1061.7,533.4 1063.3,530.8 1065.0,528.3 1066.6,525.8 1068.2,523.3 1069.9,520.7 1071.5,518.2 1073.2,515.7 1074.8,513.2 1076.5,510.7 1078.1,508.2 1079.8,505.7 1081.5,503.2 1083.1,500.7 1084.8,498.2 1086.5,495.7 1088.2,493.2 1089.9,490.8 1091.6,488.3 1093.3,485.8 1095.0,483.3 1096.8,480.9 1098.5,478.4 1100.2,476.0 1102.0,473.5 1103.7,471.1 1105.4,468.6 1107.2,466.2 1109.0,463.7 1110.7,461.3 1112.5,458.9 1114.3,456.5 1116.1,454.0 1117.9,451.6 1119.7,449.2 1121.5,446.8 1123.3,444.4 1125.1,442.0 1126.9,439.6 1128.8,437.3 1130.6,434.9 1132.5,432.5 1134.3,430.1 1136.2,427.8 1138.0,425.4 1139.9,423.1 1141.8,420.7 1143.7,418.4 1145.6,416.0 1147.5,413.7 1149.4,411.4 1151.3,409.1 1153.2,406.8 1155.1,404.5 1157.1,402.1 1159.0,399.9 1160.9,397.6 1162.9,395.3 1164.9,393.0 1166.8,390.7 1168.8,388.5 1170.8,386.2 1172.8,384.0 1174.8,381.7 1176.8,379.5 1178.8,377.2 1180.8,375.0 1182.8,372.8 1184.9,370.6 1186.9,368.4 1189.0,366.2 1191.0,364.0 1193.1,361.8 1195.2,359.6 1197.2,357.4 1199.3,355.3 1201.4,353.1 1203.5,351.0 1205.6,348.8 1207.7,346.7 1209.9,344.6 1212.0,342.4 1214.1,340.3 1216.3,338.2 1218.4,336.1 1220.6,334.0 1222.7,331.9 1224.9,329.9 1227.1,327.8 1229.3,325.7 1231.5,323.7 1233.7,321.6 1235.9,319.6 1238.1,317.6 1240.3,315.5 1242.6,313.5 1244.8,311.5 1247.1,309.5 1249.3,307.5 1251.6,305.6 1253.8,303.6 1256.1,301.6 1258.4,299.7 1260.7,297.7 1263.0,295.8 1265.3,293.9 1267.6,291.9 1269.9,290.0 1272.3,288.1 1274.6,286.3 1277.0,284.4 1279.3,282.5 1281.7,280.7 1284.1,278.8 1286.4,277.0 1288.8,275.2 1291.2,273.3 1293.6,271.6 1296.1,269.8 1298.5,268.0 1300.9,266.2 1303.4,264.5 1305.8,262.8 1308.3,261.1 1310.8,259.4 1313.3,257.7 1315.8,256.0 1318.3,254.4 1320.8,252.7 1323.4,251.1 1325.9,249.5 1328.5,247.9 1331.0,246.4 1333.6,244.8 1336.2,243.3 1338.8,241.8 1341.4,240.3 1344.0,238.8 1346.7,237.4 1349.3,235.9 1352.0,234.5 1354.6,233.1 1357.3,231.8 1360.0,230.4 1362.7,229.1 1365.4,227.8 1368.1,226.6 1370.9,225.3 1373.6,224.1 1376.4,222.9 1379.1,221.7 1381.9,220.6 1384.7,219.5 1387.5,218.4 1390.3,217.3 1393.2,216.3 1396.0,215.3 1398.8,214.3 1401.7,213.4 1404.6,212.5 1407.4,211.6 1410.3,210.8 1413.2,210.0 1416.1,209.2 1419.0,208.4 1421.9,207.7 1424.9,207.0 1427.8,206.3 1430.7,205.7 1433.7,205.1 1436.6,204.5 1439.6,204.0 1442.6,203.5 1445.5,203.0 1448.5,202.5 1451.5,202.1 1454.5,201.7 1457.4,201.4 1460.4,201.0 1463.4,200.7 1466.4,200.5 1469.4,200.2 1472.4,200.0 1475.4,199.9 1478.4,199.7 1481.4,199.6 1484.4,199.5 1487.4,199.4 1490.4,199.4 1493.4,199.4 1496.4,199.4 1499.4,199.5 1502.4,199.6 1505.5,199.7 1508.5,199.9 1511.5,200.0 1514.5,200.2 1517.5,200.5 1520.4,200.8 1523.4,201.1 1526.4,201.4 1529.4,201.7 1532.4,202.1 1535.4,202.5 1538.3,203.0 1541.3,203.4 1544.3,204.0 1547.2,204.5 1550.2,205.0 1553.1,205.6 1556.1,206.2 1559.0,206.9 1561.9,207.6 1564.9,208.3 1567.8,209.0 1570.7,209.8 1573.6,210.6 1576.5,211.4 1579.4,212.2 1582.2,213.1 1585.1,214.0 1588.0,214.9 1590.8,215.9 1593.6,216.9 1596.5,217.9 1599.3,219.0 1602.1,220.0 1604.9,221.1 1607.7,222.3 1610.5,223.4 1613.2,224.6 1616.0,225.8 1618.7,227.1 1621.4,228.3 1624.1,229.6 1626.8,231.0 1629.5,232.3 1632.2,233.7 1634.9,235.1 1637.5,236.5 1640.1,238.0 1642.7,239.5 1645.3,241.0 1647.9,242.5 1650.5,244.1 1653.0,245.7 1655.5,247.3 1658.1,249.0 1660.6,250.7 1663.0,252.4 1665.5,254.1 1667.9,255.8 1670.4,257.6 1672.8,259.4 1675.2,261.2 1677.6,263.1 1679.9,264.9 1682.3,266.8 1684.6,268.6 1687.0,270.5 1689.3,272.4 1691.7,274.3 1694.0,276.2 1696.3,278.1 1698.6,280.0 1700.9,281.9 1703.3,283.9 1705.6,285.8 1707.9,287.7 1710.2,289.6 1712.6,291.5 1714.9,293.4 1717.2,295.3 1719.5,297.3 1721.8,299.2 1724.0,301.2 1726.3,303.2 1728.5,305.2 1730.7,307.3 1732.9,309.3 1735.0,311.5 1737.1,313.6 1739.1,315.8 1741.1,318.1 1743.1,320.4 1744.9,322.7 1746.8,325.1 1748.5,327.5 1750.3,330.0 1751.9,332.5 1753.5,335.1 1755.0,337.7 1756.5,340.3 1758.0,342.9 1759.3,345.6 1760.7,348.3 1761.9,351.0 1763.2,353.7 1764.3,356.5 1765.5,359.3 1766.5,362.1 1767.6,364.9 1768.6,367.8 1769.5,370.6 1770.4,373.5 1771.3,376.4 1772.1,379.2 1772.9,382.1 1773.7,385.1 1774.4,388.0 1775.1,390.9 1775.8,393.8 1776.4,396.8 1777.0,399.7 1777.6,402.7 1778.2,405.6 1778.7,408.6 1779.2,411.5 1779.7,414.5 1780.2,417.5 1780.6,420.4 1781.0,423.4 1781.4,426.4 1781.8,429.4 1782.2,432.4 1782.5,435.3 1782.9,438.3 1783.2,441.3 1783.5,444.3 1783.8,447.3 1784.1,450.3 1784.4,453.3 1784.7,456.3 1785.0,459.3 1785.3,462.3 1785.6,465.3 1785.8,468.2 1786.1,471.2 1786.4,474.2 1786.7,477.2 1786.9,480.2 1787.2,483.2 1787.5,486.2 1787.8,489.2 1788.1,492.2 1788.5,495.2 1788.8,498.2 1789.1,501.1 1789.5,504.1 1789.9,507.1 1790.3,510.1 1790.7,513.1 1791.1,516.0 1791.5,519.0 1792.0,522.0 1792.5,525.0 1793.0,527.9 1793.6,530.9 1794.1,533.8 1794.7,536.8 1795.3,539.7 1796.0,542.6 1796.7,545.6 1797.4,548.5 1798.2,551.4 1799.0,554.3 1799.8,557.2 1800.6,560.1 1801.5,562.9 1802.5,565.8 1803.5,568.6 1804.5,571.5 1805.5,574.3 1806.7,577.1 1807.8,579.9 1809.0,582.6 1810.2,585.3 1811.5,588.1 1812.8,590.8 1814.2,593.4" stroke="#1A6FDF"/>
<path d="M248.7,1424.3 251.7,1424.4 254.7,1424.5 257.7,1424.5 260.7,1424.5 263.8,1424.5 266.8,1424.4 269.8,1424.3 272.8,1424.2 275.8,1424.0 278.8,1423.9 281.8,1423.6 284.7,1423.3 287.7,1423.0 290.7,1422.7 293.7,1422.3 296.7,1421.9 299.7,1421.5 302.6,1421.0 305.6,1420.5 308.5,1420.0 311.5,1419.4 314.4,1418.8 317.4,1418.1 320.3,1417.4 323.2,1416.7 326.1,1415.9 329.0,1415.2 331.9,1414.3 334.8,1413.5 337.6,1412.6 340.5,1411.6 343.3,1410.6 346.2,1409.6 349.0,1408.6 351.8,1407.5 354.6,1406.4 357.4,1405.2 360.1,1404.0 362.8,1402.8 365.6,1401.5 368.3,1400.2 371.0,1398.9 373.7,1397.5 376.3,1396.1 379.0,1394.7 381.6,1393.2 384.2,1391.7 386.8,1390.2 389.4,1388.7 391.9,1387.1 394.5,1385.5 397.0,1383.9 399.5,1382.2 402.0,1380.6 404.5,1378.9 407.0,1377.2 409.4,1375.4 411.9,1373.7 414.3,1371.9 416.7,1370.1 419.1,1368.3 421.5,1366.4 423.8,1364.6 426.2,1362.7 428.5,1360.8 430.8,1358.9 433.2,1357.0 435.5,1355.1 437.8,1353.1 440.0,1351.2 442.3,1349.2 444.6,1347.2 446.8,1345.2 449.0,1343.2 451.3,1341.2 453.5,1339.1 455.7,1337.1 457.9,1335.1 460.1,1333.0 462.2,1330.9 464.4,1328.8 466.6,1326.8 468.7,1324.7 470.9,1322.6 473.0,1320.5 475.2,1318.4 477.3,1316.2 479.4,1314.1 481.5,1312.0 483.7,1309.8 485.8,1307.7 487.9,1305.5 489.9,1303.4 492.0,1301.2 494.1,1299.0 496.2,1296.9 498.2,1294.7 500.3,1292.5 502.4,1290.3 504.4,1288.1 506.4,1285.9 508.5,1283.7 510.5,1281.5 512.5,1279.2 514.5,1277.0 516.5,1274.8 518.5,1272.5 520.5,1270.3 522.5,1268.0 524.5,1265.8 526.5,1263.5 528.5,1261.3 530.4,1259.0 532.4,1256.7 534.4,1254.4 536.3,1252.1 538.3,1249.9 540.2,1247.6 542.1,1245.3 544.1,1243.0 546.0,1240.6 547.9,1238.3 549.8,1236.0 551.7,1233.7 553.7,1231.4 555.6,1229.1 557.5,1226.7 559.3,1224.4 561.2,1222.0 563.1,1219.7 565.0,1217.4 566.9,1215.0 568.7,1212.7 570.6,1210.3 572.5,1207.9 574.3,1205.6 576.2,1203.2 578.0,1200.8 579.9,1198.5 581.7,1196.1 583.5,1193.7 585.4,1191.3 587.2,1188.9 589.0,1186.6 590.9,1184.2 592.7,1181.8 594.5,1179.4 596.3,1177.0 598.1,1174.6 599.9,1172.2 601.7,1169.8 603.5,1167.4 605.3,1165.0 607.1,1162.5 608.9,1160.1 610.7,1157.7 612.5,1155.3 614.2,1152.9 616.0,1150.5 617.8,1148.0 619.6,1145.6 621.3,1143.2 623.1,1140.8 624.9,1138.3 626.6,1135.9 628.4,1133.5 630.2,1131.0 631.9,1128.6 633.7,1126.1 635.4,1123.7 637.2,1121.3 638.9,1118.8 640.7,1116.4 642.4,1113.9 644.2,1111.5 645.9,1109.0 647.7,1106.6 649.4,1104.1 651.2,1101.7 652.9,1099.2 654.6,1096.8 656.4,1094.3 658.1,1091.9 659.8,1089.4 661.6,1087.0 663.3,1084.5 665.0,1082.1 666.8,1079.6 668.5,1077.1 670.2,1074.7 671.9,1072.2 673.6,1069.7 675.3,1067.3 677.0,1064.8 678.8,1062.3 680.4,1059.8 682.1,1057.4 683.8,1054.9 685.5,1052.4 687.2,1049.9 688.9,1047.4 690.5,1044.9 692.2,1042.4 693.9,1039.9 695.5,1037.4 697.1,1034.9 698.8,1032.3 700.4,1029.8 702.0,1027.3 703.7,1024.7 705.3,1022.2 706.9,1019.7 708.4,1017.1 710.0,1014.6 711.6,1012.0 713.2,1009.4 714.7,1006.9 716.3,1004.3 717.8,1001.7 719.3,999.1 720.9,996.5 722.4,993.9 723.9,991.3 725.4,988.7 726.8,986.1 728.3,983.5 729.8,980.9 731.3,978.2 732.7,975.6 734.2,973.0 735.6,970.3 737.1,967.7 738.5,965.1 740.0,962.5 741.5,959.8 742.9,957.2 744.4,954.6 745.8,951.9 747.3,949.3 748.8,946.7 750.2,944.1 751.7,941.5 753.2,938.8 754.7,936.2 756.2,933.6 757.7,931.0 759.2,928.4 760.7,925.8 762.2,923.2 763.8,920.7 765.3,918.1 766.8,915.5 768.4,912.9 769.9,910.3 771.5,907.8 773.0,905.2 774.6,902.6 776.2,900.1 777.7,897.5 779.3,894.9 780.9,892.4 782.4,889.8 784.0,887.2 785.6,884.7 787.1,882.1 788.7,879.5 790.3,877.0 791.8,874.4 793.4,871.9 795.0,869.3 796.5,866.7 798.1,864.2 799.7,861.6 801.2,859.0 802.8,856.5 804.3,853.9 805.9,851.3 807.5,848.8 809.0,846.2 810.6,843.6 812.1,841.0 813.7,838.5 815.3,835.9 816.8,833.3 818.4,830.8 819.9,828.2 821.5,825.6 823.1,823.1 824.6,820.5 826.2,817.9 827.7,815.3 829.3,812.8 830.8,810.2 832.4,807.6 834.0,805.1 835.5,802.5 837.1,799.9 838.7,797.4 840.2,794.8 841.8,792.2 843.3,789.7 844.9,787.1 846.5,784.5 848.0,782.0 849.6,779.4 851.2,776.8 852.7,774.3 854.3,771.7 855.9,769.2 857.5,766.6 859.0,764.0 860.6,761.5 862.2,758.9 863.8,756.4 865.3,753.8 866.9,751.3 868.5,748.7 870.1,746.1 871.7,743.6 873.3,741.0 874.8,738.5 876.4,735.9 878.0,733.4 879.6,730.8 881.2,728.3 882.8,725.7 884.4,723.2 886.0,720.7 887.6,718.1 889.2,715.6 890.8,713.0 892.5,710.5 894.1,708.0 895.7,705.4 897.3,702.9 898.9,700.4 900.5,697.8 902.2,695.3 903.8,692.8 905.4,690.3 907.1,687.7 908.7,685.2 910.3,682.7 912.0,680.2 913.6,677.7 915.3,675.2 916.9,672.7 918.6,670.1 920.2,667.6 921.9,665.1 923.6,662.6 925.2,660.1 926.9,657.6 928.6,655.1 930.3,652.6 931.9,650.1 933.6,647.7 935.3,645.2 937.0,642.7 938.7,640.2 940.4,637.7 942.1,635.2 943.8,632.8 945.5,630.3 947.2,627.8 948.9,625.4 950.7,622.9 952.4,620.4 954.1,618.0 955.8,615.5 957.6,613.1 959.3,610.6 961.1,608.2 962.8,605.7 964.6,603.3 966.3,600.9 968.1,598.4 969.9,596.0 971.6,593.6 973.4,591.1 975.2,588.7 977.0,586.3 978.8,583.9 980.6,581.5 982.4,579.1 984.2,576.7 986.0,574.3 987.8,571.9 989.6,569.5 991.4,567.1 993.3,564.7 995.1,562.3 996.9,560.0 998.8,557.6 1000.6,555.2 1002.5,552.9 1004.3,550.5 1006.2,548.1 1008.1,545.8 1010.0,543.4 1011.8,541.1 1013.7,538.8 1015.6,536.4 1017.5,534.1 1019.4,531.8 1021.3,529.4 1023.3,527.1 1025.2,524.8 1027.1,522.5 1029.0,520.2 1031.0,517.9 1032.9,515.6 1034.9,513.4 1036.9,511.1 1038.8,508.8 1040.8,506.6 1042.8,504.3 1044.8,502.1 1046.8,499.8 1048.8,497.6 1050.8,495.3 1052.8,493.1 1054.9,490.9 1056.9,488.7 1059.0,486.5 1061.0,484.3 1063.1,482.1 1065.2,480.0 1067.2,477.8 1069.3,475.6 1071.4,473.5 1073.5,471.4 1075.7,469.2 1077.8,467.1 1079.9,465.0 1082.1,462.9 1084.2,460.8 1086.4,458.7 1088.6,456.6 1090.8,454.6 1093.0,452.5 1095.2,450.5 1097.4,448.4 1099.6,446.4 1101.8,444.4 1104.1,442.4 1106.3,440.4 1108.6,438.4 1110.9,436.5 1113.2,434.5 1115.5,432.6 1117.8,430.7 1120.1,428.8 1122.4,426.8 1124.7,425.0 1127.1,423.1 1129.4,421.2 1131.8,419.4 1134.2,417.5 1136.6,415.7 1139.0,413.9 1141.4,412.1 1143.8,410.3 1146.3,408.6 1148.7,406.8 1151.2,405.1 1153.6,403.4 1156.1,401.7 1158.6,400.0 1161.1,398.3 1163.6,396.7 1166.1,395.0 1168.6,393.4 1171.2,391.8 1173.7,390.2 1176.3,388.6 1178.9,387.1 1181.4,385.5 1184.0,384.0 1186.6,382.5 1189.2,381.0 1191.8,379.5 1194.5,378.0 1197.1,376.6 1199.7,375.2 1202.4,373.8 1205.1,372.4 1207.7,371.0 1210.4,369.6 1213.1,368.2 1215.8,366.9 1218.5,365.6 1221.2,364.3 1223.9,363.0 1226.6,361.7 1229.3,360.5 1232.1,359.2 1234.8,358.0 1237.6,356.8 1240.3,355.6 1243.1,354.4 1245.9,353.2 1248.6,352.1 1251.4,350.9 1254.2,349.8 1257.0,348.7 1259.8,347.6 1262.6,346.5 1265.4,345.5 1268.2,344.4 1271.1,343.4 1273.9,342.4 1276.7,341.4 1279.6,340.4 1282.4,339.5 1285.3,338.5 1288.1,337.6 1291.0,336.6 1293.8,335.7 1296.7,334.9 1299.6,334.0 1302.5,333.1 1305.4,332.3 1308.2,331.5 1311.1,330.6 1314.0,329.9 1316.9,329.1 1319.9,328.3 1322.8,327.6 1325.7,326.9 1328.6,326.2 1331.5,325.5 1334.5,324.8 1337.4,324.2 1340.3,323.6 1343.3,323.0 1346.2,322.4 1349.2,321.9 1352.2,321.4 1355.1,320.9 1358.1,320.4 1361.1,320.0 1364.0,319.5 1367.0,319.1 1370.0,318.8 1373.0,318.4 1376.0,318.1 1379.0,317.8 1382.0,317.6 1385.0,317.4 1388.0,317.2 1391.0,317.0 1394.0,316.9 1397.0,316.8 1400.0,316.7 1403.0,316.7 1406.0,316.6 1409.0,316.7 1412.0,316.7 1415.0,316.8 1418.0,316.9 1421.0,317.1 1424.0,317.3 1427.0,317.5 1430.0,317.7 1433.0,318.0 1436.0,318.3 1439.0,318.6 1442.0,318.9 1444.9,319.2 1447.9,319.6 1450.9,320.0 1453.9,320.4 1456.9,320.8 1459.8,321.2 1462.8,321.6 1465.8,322.1 1468.8,322.5 1471.7,323.0 1474.7,323.5 1477.7,323.9 1480.6,324.4 1483.6,324.9 1486.6,325.4 1489.5,325.9 1492.5,326.4 1495.4,326.9 1498.4,327.4 1501.4,327.9 1504.3,328.4 1507.3,328.9 1510.3,329.4 1513.2,329.9 1516.2,330.4 1519.1,330.9 1522.1,331.4 1525.1,332.0 1528.0,332.5 1531.0,333.0 1534.0,333.5 1536.9,334.0 1539.9,334.5 1542.8,335.0 1545.8,335.5 1548.8,336.0 1551.7,336.6 1554.7,337.1 1557.6,337.6 1560.6,338.1 1563.6,338.6 1566.5,339.2 1569.5,339.7 1572.4,340.2 1575.4,340.7 1578.4,341.3 1581.3,341.8 1584.3,342.4 1587.2,342.9 1590.2,343.5 1593.1,344.0 1596.1,344.6 1599.0,345.1 1602.0,345.7 1604.9,346.3 1607.9,346.8 1610.8,347.4 1613.8,348.0 1616.7,348.6 1619.7,349.2 1622.6,349.8 1625.6,350.4 1628.5,351.1 1631.4,351.7 1634.4,352.3 1637.3,353.0 1640.2,353.6 1643.2,354.3 1646.1,355.0 1649.0,355.7 1651.9,356.3 1654.9,357.0 1657.8,357.8 1660.7,358.5 1663.6,359.2 1666.5,359.9 1669.5,360.7 1672.4,361.4 1675.3,362.2 1678.2,363.0 1681.1,363.8 1684.0,364.6 1686.9,365.4 1689.8,366.2 1692.6,367.0 1695.5,367.9 1698.4,368.7 1701.3,369.6 1704.2,370.5 1707.0,371.4 1709.9,372.3 1712.7,373.2 1715.6,374.1 1718.5,375.1 1721.3,376.1 1724.1,377.0 1727.0,378.0 1729.8,379.0 1732.6,380.0 1735.5,381.1 1738.3,382.1 1741.1,383.2 1743.9,384.3 1746.7,385.4 1749.5,386.5 1752.2,387.7 1755.0,388.9 1757.8,390.0 1760.5,391.3 1763.3,392.5 1766.0,393.8 1768.7,395.0 1771.4,396.3 1774.1,397.7 1776.8,399.0 1779.5,400.4 1782.1,401.8 1784.7,403.3 1787.4,404.7 1790.0,406.2 1792.6,407.8 1795.1,409.3 1797.7,410.9 1800.2,412.5 1802.7,414.2 1805.2,415.9 1807.7,417.6 1810.1,419.3 1812.5,421.1 1814.9,423.0 1817.3,424.8 1819.6,426.7 1821.9,428.6 1824.2,430.6 1826.4,432.6 1828.6,434.6 1830.8,436.7 1832.9,438.8 1835.0,441.0 1837.1,443.2 1839.1,445.4 1841.1,447.7 1843.0,450.0 1844.9,452.3 1846.8,454.7 1848.6,457.1 1850.3,459.5 1852.0,462.0 1853.7,464.5 1855.3,467.0 1856.9,469.6 1858.4,472.2 1859.9,474.8 1861.4,477.4 1862.8,480.1 1864.1,482.7 1865.5,485.4 1866.7,488.2 1868.0,490.9 1869.1,493.7 1870.3,496.5 1871.4,499.3 1872.4,502.1 1873.4,504.9 1874.4,507.7 1875.3,510.6 1876.2,513.5 1877.0,516.4 1877.8,519.3 1878.6,522.2 1879.3,525.1 1880.0,528.0" stroke="#37AD6B"/>
</g>
<g font-family="&quot;Liberation Serif&quot;, &quot;Times New Roman&quot;, serif" font-size="84" fill="#000"><text x="249.8" y="1525.5" text-anchor="middle">0</text><text x="433.1" y="1525.5" text-anchor="middle">20</text><text x="616.9" y="1525.5" text-anchor="middle">40</text><text x="799.6" y="1525.5" text-anchor="middle">60</text><text x="986.2" y="1525.5" text-anchor="middle">80</text><text x="1170.4" y="1525.5" text-anchor="middle">100</text><text x="1353.7" y="1525.5" text-anchor="middle">120</text><text x="1538.6" y="1525.5" text-anchor="middle">140</text><text x="1720.0" y="1525.5" text-anchor="middle">160</text><text x="1903.8" y="1525.5" text-anchor="middle">180</text><text x="219.0" y="1455.4" text-anchor="end">0.0</text><text x="219.0" y="1267.6" text-anchor="end">0.5</text><text x="219.0" y="1079.7" text-anchor="end">1.0</text><text x="219.0" y="891.9" text-anchor="end">1.5</text><text x="219.0" y="704.1" text-anchor="end">2.0</text><text x="219.0" y="516.3" text-anchor="end">2.5</text><text x="219.0" y="328.4" text-anchor="end">3.0</text><text x="219.0" y="140.6" text-anchor="end">3.5</text></g>
<text transform="translate(83.0 864.5) rotate(-90) scale(1.34 1)" font-family="&quot;Liberation Serif&quot;, &quot;Times New Roman&quot;, serif" font-size="84" font-style="italic">σ</text>
<text transform="translate(80.9 798.3) rotate(-90)" font-family="&quot;Liberation Serif&quot;, &quot;Times New Roman&quot;, serif" font-size="84">(MPa)</text>
<text transform="translate(1034.1 1669.0) scale(1.29 1)" font-family="&quot;Liberation Serif&quot;, &quot;Times New Roman&quot;, serif" font-size="84" font-style="italic">ε</text>
<text x="1087.8" y="1669.0" font-family="&quot;Liberation Serif&quot;, &quot;Times New Roman&quot;, serif" font-size="84">(%)</text>
<text x="1004.5" y="1800.1" text-anchor="middle" font-family="&quot;Liberation Serif&quot;, &quot;Times New Roman&quot;, serif" font-size="87">(<tspan font-weight="bold">c</tspan>)</text>
<rect x="339.0" y="100.0" width="352" height="337" fill="#000"/>
<rect x="332.0" y="93.0" width="352" height="337" fill="#fff" stroke="#000" stroke-width="2"/>
<line x1="341.0" y1="140.0" x2="489.0" y2="140.0" stroke="#515151" stroke-width="8"/>
<circle cx="341.0" cy="140.0" r="4" fill="#515151"/>
<text x="504.6" y="161.9" font-family="&quot;Liberation Serif&quot;, &quot;Times New Roman&quot;, serif" font-size="67" font-style="italic">n</text>
<text transform="translate(536.5 161.9) scale(1.12 1)" font-family="&quot;Liberation Serif&quot;, &quot;Times New Roman&quot;, serif" font-size="67">=</text>
<text x="577.0" y="161.9" font-family="&quot;Liberation Serif&quot;, &quot;Times New Roman&quot;, serif" font-size="67">0</text>
<line x1="341.0" y1="221.8" x2="489.0" y2="221.8" stroke="#F14040" stroke-width="8"/>
<circle cx="341.0" cy="221.8" r="4" fill="#F14040"/>
<text x="504.6" y="243.7" font-family="&quot;Liberation Serif&quot;, &quot;Times New Roman&quot;, serif" font-size="67" font-style="italic">n</text>
<text transform="translate(536.5 243.7) scale(1.12 1)" font-family="&quot;Liberation Serif&quot;, &quot;Times New Roman&quot;, serif" font-size="67">=</text>
<text x="577.0" y="243.7" font-family="&quot;Liberation Serif&quot;, &quot;Times New Roman&quot;, serif" font-size="67">25</text>
<line x1="341.0" y1="303.6" x2="489.0" y2="303.6" stroke="#1A6FDF" stroke-width="8"/>
<circle cx="341.0" cy="303.6" r="4" fill="#1A6FDF"/>
<text x="504.6" y="325.5" font-family="&quot;Liberation Serif&quot;, &quot;Times New Roman&quot;, serif" font-size="67" font-style="italic">n</text>
<text transform="translate(536.5 325.5) scale(1.12 1)" font-family="&quot;Liberation Serif&quot;, &quot;Times New Roman&quot;, serif" font-size="67">=</text>
<text x="577.0" y="325.5" font-family="&quot;Liberation Serif&quot;, &quot;Times New Roman&quot;, serif" font-size="67">50</text>
<line x1="341.0" y1="385.4" x2="489.0" y2="385.4" stroke="#37AD6B" stroke-width="8"/>
<circle cx="341.0" cy="385.4" r="4" fill="#37AD6B"/>
<text x="504.6" y="407.3" font-family="&quot;Liberation Serif&quot;, &quot;Times New Roman&quot;, serif" font-size="67" font-style="italic">n</text>
<text transform="translate(536.5 407.3) scale(1.12 1)" font-family="&quot;Liberation Serif&quot;, &quot;Times New Roman&quot;, serif" font-size="67">=</text>
<text x="577.0" y="407.3" font-family="&quot;Liberation Serif&quot;, &quot;Times New Roman&quot;, serif" font-size="67">100</text>
<g stroke="#7b7b7b" stroke-width="3" stroke-dasharray="9.1 7.99" fill="none" shape-rendering="crispEdges"><line x1="384.4" y1="3261.0" x2="384.4" y2="1860.0"/><line x1="578.3" y1="3261.0" x2="578.3" y2="1860.0"/><line x1="772.2" y1="3261.0" x2="772.2" y2="1860.0"/><line x1="966.1" y1="3261.0" x2="966.1" y2="1860.0"/><line x1="1159.9" y1="3261.0" x2="1159.9" y2="1860.0"/><line x1="1353.8" y1="3261.0" x2="1353.8" y2="1860.0"/><line x1="1547.7" y1="3261.0" x2="1547.7" y2="1860.0"/><line x1="1741.6" y1="3261.0" x2="1741.6" y2="1860.0"/></g>
<g stroke="#7b7b7b" stroke-width="3" stroke-dasharray="9.1 7.96" fill="none" shape-rendering="crispEdges"><line x1="190.5" y1="3005.4" x2="1931.5" y2="3005.4"/><line x1="190.5" y1="2749.8" x2="1931.5" y2="2749.8"/><line x1="190.5" y1="2494.2" x2="1931.5" y2="2494.2"/><line x1="190.5" y1="2238.6" x2="1931.5" y2="2238.6"/><line x1="190.5" y1="1983.0" x2="1931.5" y2="1983.0"/></g>
<rect x="190.5" y="1856.0" width="1745.0" height="1405.0" fill="none" stroke="#000" stroke-width="7.0"/>
<g stroke="#000" stroke-width="8"><line x1="384.4" y1="3261.0" x2="384.4" y2="3233.0"/><line x1="578.3" y1="3261.0" x2="578.3" y2="3233.0"/><line x1="772.2" y1="3261.0" x2="772.2" y2="3233.0"/><line x1="966.1" y1="3261.0" x2="966.1" y2="3233.0"/><line x1="1159.9" y1="3261.0" x2="1159.9" y2="3233.0"/><line x1="1353.8" y1="3261.0" x2="1353.8" y2="3233.0"/><line x1="1547.7" y1="3261.0" x2="1547.7" y2="3233.0"/><line x1="1741.6" y1="3261.0" x2="1741.6" y2="3233.0"/><line x1="190.5" y1="3005.4" x2="218.5" y2="3005.4"/><line x1="190.5" y1="2749.8" x2="218.5" y2="2749.8"/><line x1="190.5" y1="2494.2" x2="218.5" y2="2494.2"/><line x1="190.5" y1="2238.6" x2="218.5" y2="2238.6"/><line x1="190.5" y1="1983.0" x2="218.5" y2="1983.0"/></g>
<clipPath id="clipd"><rect x="190.5" y="1856.0" width="1745.0" height="1405.0"/></clipPath>
<g clip-path="url(#clipd)" fill="none" stroke-width="8.0" stroke-linejoin="round" stroke-linecap="round">
<path d="M190.1,3257.2 193.0,3256.4 195.9,3255.6 198.7,3254.7 201.6,3253.9 204.5,3253.0 207.3,3252.0 210.2,3251.1 213.0,3250.1 215.9,3249.1 218.7,3248.1 221.5,3247.0 224.3,3245.9 227.1,3244.8 229.9,3243.7 232.7,3242.5 235.4,3241.3 238.2,3240.1 240.9,3238.9 243.6,3237.6 246.4,3236.4 249.1,3235.1 251.8,3233.8 254.5,3232.4 257.2,3231.0 259.8,3229.7 262.5,3228.3 265.1,3226.8 267.8,3225.4 270.4,3223.9 273.0,3222.5 275.6,3221.0 278.2,3219.5 280.8,3217.9 283.4,3216.4 285.9,3214.8 288.5,3213.2 291.1,3211.6 293.6,3210.0 296.1,3208.4 298.6,3206.8 301.1,3205.1 303.7,3203.4 306.1,3201.8 308.6,3200.1 311.1,3198.4 313.6,3196.7 316.0,3194.9 318.5,3193.2 320.9,3191.4 323.4,3189.7 325.8,3187.9 328.2,3186.1 330.6,3184.3 333.0,3182.5 335.5,3180.7 337.8,3178.9 340.2,3177.1 342.6,3175.3 345.0,3173.4 347.4,3171.6 349.8,3169.8 352.1,3167.9 354.5,3166.0 356.8,3164.2 359.2,3162.3 361.5,3160.4 363.9,3158.5 366.2,3156.7 368.6,3154.8 370.9,3152.9 373.2,3151.0 375.6,3149.1 377.9,3147.2 380.2,3145.3 382.6,3143.4 384.9,3141.5 387.2,3139.6 389.5,3137.7 391.8,3135.8 394.2,3133.8 396.5,3131.9 398.8,3130.0 401.1,3128.1 403.4,3126.2 405.7,3124.3 408.0,3122.3 410.3,3120.4 412.7,3118.5 415.0,3116.5 417.3,3114.6 419.5,3112.7 421.8,3110.7 424.1,3108.8 426.4,3106.8 428.7,3104.9 431.0,3102.9 433.3,3100.9 435.5,3099.0 437.8,3097.0 440.1,3095.0 442.3,3093.0 444.6,3091.1 446.8,3089.1 449.1,3087.1 451.3,3085.1 453.6,3083.1 455.8,3081.0 458.0,3079.0 460.2,3077.0 462.5,3075.0 464.7,3072.9 466.9,3070.9 469.1,3068.9 471.3,3066.8 473.5,3064.7 475.6,3062.7 477.8,3060.6 480.0,3058.5 482.2,3056.4 484.3,3054.3 486.5,3052.2 488.6,3050.1 490.7,3048.0 492.9,3045.9 495.0,3043.8 497.1,3041.6 499.2,3039.5 501.3,3037.3 503.4,3035.2 505.5,3033.0 507.5,3030.8 509.6,3028.6 511.6,3026.4 513.7,3024.2 515.7,3022.0 517.7,3019.8 519.8,3017.5 521.8,3015.3 523.8,3013.1 525.8,3010.8 527.7,3008.5 529.7,3006.3 531.6,3004.0 533.6,3001.7 535.5,2999.4 537.4,2997.1 539.4,2994.8 541.3,2992.4 543.1,2990.1 545.0,2987.7 546.9,2985.4 548.8,2983.0 550.6,2980.7 552.5,2978.3 554.3,2975.9 556.1,2973.5 558.0,2971.2 559.8,2968.8 561.6,2966.4 563.4,2964.0 565.2,2961.5 567.0,2959.1 568.8,2956.7 570.5,2954.3 572.3,2951.9 574.1,2949.4 575.8,2947.0 577.6,2944.5 579.3,2942.1 581.1,2939.6 582.8,2937.2 584.6,2934.7 586.3,2932.3 588.0,2929.8 589.7,2927.4 591.5,2924.9 593.2,2922.4 594.9,2920.0 596.6,2917.5 598.3,2915.0 600.0,2912.5 601.7,2910.1 603.4,2907.6 605.1,2905.1 606.8,2902.6 608.5,2900.2 610.2,2897.7 611.9,2895.2 613.6,2892.7 615.3,2890.2 617.0,2887.8 618.7,2885.3 620.4,2882.8 622.1,2880.3 623.8,2877.8 625.5,2875.4 627.2,2872.9 628.9,2870.4 630.6,2867.9 632.4,2865.5 634.1,2863.0 635.8,2860.5 637.5,2858.1 639.2,2855.6 640.9,2853.1 642.6,2850.6 644.3,2848.2 646.1,2845.7 647.8,2843.2 649.5,2840.8 651.2,2838.3 652.9,2835.8 654.6,2833.3 656.3,2830.9 658.0,2828.4 659.7,2825.9 661.4,2823.4 663.1,2821.0 664.8,2818.5 666.5,2816.0 668.2,2813.5 669.9,2811.0 671.6,2808.6 673.3,2806.1 675.0,2803.6 676.7,2801.1 678.3,2798.6 680.0,2796.1 681.7,2793.6 683.4,2791.1 685.0,2788.6 686.7,2786.1 688.3,2783.6 690.0,2781.1 691.6,2778.6 693.3,2776.0 694.9,2773.5 696.5,2771.0 698.2,2768.5 699.8,2765.9 701.4,2763.4 703.0,2760.9 704.6,2758.3 706.2,2755.8 707.8,2753.2 709.4,2750.7 711.0,2748.1 712.6,2745.6 714.1,2743.0 715.7,2740.4 717.3,2737.9 718.8,2735.3 720.4,2732.7 722.0,2730.2 723.5,2727.6 725.1,2725.0 726.6,2722.5 728.2,2719.9 729.7,2717.3 731.3,2714.7 732.8,2712.2 734.4,2709.6 735.9,2707.0 737.5,2704.4 739.0,2701.8 740.6,2699.3 742.1,2696.7 743.7,2694.1 745.2,2691.5 746.8,2689.0 748.3,2686.4 749.9,2683.8 751.4,2681.2 753.0,2678.7 754.6,2676.1 756.1,2673.5 757.7,2671.0 759.3,2668.4 760.8,2665.8 762.4,2663.3 764.0,2660.7 765.6,2658.2 767.2,2655.6 768.8,2653.1 770.4,2650.5 772.0,2648.0 773.6,2645.4 775.2,2642.9 776.8,2640.4 778.4,2637.8 780.1,2635.3 781.7,2632.8 783.3,2630.3 785.0,2627.8 786.6,2625.3 788.3,2622.8 789.9,2620.2 791.6,2617.7 793.3,2615.3 795.0,2612.8 796.7,2610.3 798.3,2607.8 800.0,2605.3 801.7,2602.8 803.5,2600.3 805.2,2597.9 806.9,2595.4 808.6,2593.0 810.3,2590.5 812.1,2588.0 813.8,2585.6 815.6,2583.1 817.3,2580.7 819.1,2578.3 820.8,2575.8 822.6,2573.4 824.4,2571.0 826.1,2568.5 827.9,2566.1 829.7,2563.7 831.5,2561.3 833.3,2558.9 835.1,2556.5 836.9,2554.1 838.8,2551.7 840.6,2549.3 842.4,2546.9 844.3,2544.5 846.1,2542.2 847.9,2539.8 849.8,2537.4 851.6,2535.1 853.5,2532.7 855.4,2530.4 857.3,2528.0 859.1,2525.7 861.0,2523.3 862.9,2521.0 864.8,2518.7 866.7,2516.3 868.6,2514.0 870.5,2511.7 872.5,2509.4 874.4,2507.1 876.3,2504.8 878.3,2502.5 880.2,2500.2 882.1,2497.9 884.1,2495.6 886.1,2493.3 888.0,2491.0 890.0,2488.8 892.0,2486.5 894.0,2484.3 895.9,2482.0 897.9,2479.8 899.9,2477.5 902.0,2475.3 904.0,2473.0 906.0,2470.8 908.0,2468.6 910.0,2466.4 912.1,2464.2 914.1,2461.9 916.2,2459.7 918.2,2457.6 920.3,2455.4 922.3,2453.2 924.4,2451.0 926.5,2448.8 928.6,2446.7 930.6,2444.5 932.7,2442.3 934.8,2440.2 936.9,2438.0 939.0,2435.9 941.2,2433.7 943.3,2431.6 945.4,2429.5 947.5,2427.4 949.6,2425.2 951.8,2423.1 953.9,2421.0 956.1,2418.9 958.2,2416.8 960.3,2414.7 962.5,2412.6 964.6,2410.5 966.8,2408.4 968.9,2406.3 971.1,2404.2 973.3,2402.1 975.4,2400.0 977.6,2397.9 979.7,2395.8 981.9,2393.7 984.0,2391.6 986.2,2389.5 988.4,2387.4 990.5,2385.4 992.7,2383.3 994.9,2381.2 997.0,2379.1 999.2,2377.0 1001.3,2374.9 1003.5,2372.8 1005.6,2370.7 1007.8,2368.6 1010.0,2366.5 1012.1,2364.4 1014.3,2362.4 1016.5,2360.3 1018.6,2358.2 1020.8,2356.2 1023.0,2354.1 1025.2,2352.1 1027.4,2350.0 1029.7,2348.0 1031.9,2346.0 1034.1,2344.0 1036.4,2342.0 1038.7,2340.0 1040.9,2338.1 1043.2,2336.1 1045.6,2334.2 1047.9,2332.3 1050.2,2330.4 1052.6,2328.6 1055.0,2326.7 1057.4,2324.9 1059.8,2323.1 1062.2,2321.4 1064.7,2319.6 1067.1,2317.9 1069.6,2316.2 1072.2,2314.6 1074.7,2313.0 1077.2,2311.4 1079.8,2309.9 1082.4,2308.4 1085.1,2306.9 1087.7,2305.5 1090.4,2304.1 1093.0,2302.7 1095.8,2301.4 1098.5,2300.1 1101.2,2298.9 1104.0,2297.7 1106.7,2296.5 1109.5,2295.4 1112.3,2294.3 1115.2,2293.3 1118.0,2292.3 1120.8,2291.4 1123.7,2290.4 1126.6,2289.6 1129.5,2288.7 1132.4,2287.9 1135.3,2287.2 1138.2,2286.5 1141.1,2285.8 1144.1,2285.2 1147.0,2284.6 1150.0,2284.0 1152.9,2283.5 1155.9,2283.0 1158.9,2282.6 1161.9,2282.3 1164.9,2281.9 1167.8,2281.6 1170.8,2281.4 1173.8,2281.2 1176.8,2281.0 1179.8,2280.9 1182.9,2280.9 1185.9,2280.9 1188.9,2280.9 1191.9,2281.0 1194.9,2281.1 1197.9,2281.2 1200.9,2281.4 1203.9,2281.7 1206.9,2282.0 1209.8,2282.3 1212.8,2282.7 1215.8,2283.1 1218.8,2283.5 1221.8,2284.0 1224.7,2284.5 1227.7,2285.0 1230.6,2285.6 1233.6,2286.2 1236.5,2286.9 1239.4,2287.6 1242.3,2288.3 1245.3,2289.0 1248.2,2289.8 1251.1,2290.6 1253.9,2291.4 1256.8,2292.3 1259.7,2293.2 1262.6,2294.1 1265.4,2295.0 1268.3,2296.0 1271.1,2297.0 1273.9,2298.0 1276.7,2299.1 1279.6,2300.1 1282.4,2301.2 1285.2,2302.3 1287.9,2303.4 1290.7,2304.6 1293.5,2305.8 1296.2,2307.0 1299.0,2308.3 1301.7,2309.5 1304.4,2310.8 1307.1,2312.2 1309.8,2313.5 1312.4,2314.9 1315.1,2316.3 1317.7,2317.8 1320.3,2319.3 1322.9,2320.8 1325.5,2322.4 1328.0,2324.0 1330.5,2325.6 1333.0,2327.3 1335.5,2329.0 1338.0,2330.7 1340.4,2332.5 1342.8,2334.3 1345.1,2336.2 1347.5,2338.1 1349.8,2340.0 1352.0,2342.0 1354.3,2344.0 1356.5,2346.0 1358.6,2348.1 1360.8,2350.3 1362.9,2352.4 1364.9,2354.6 1366.9,2356.9 1368.9,2359.1 1370.8,2361.4 1372.8,2363.7 1374.7,2366.1 1376.5,2368.4 1378.4,2370.7 1380.3,2373.1 1382.1,2375.5 1384.0,2377.8 1385.9,2380.2 1387.8,2382.5 1389.7,2384.8 1391.6,2387.1 1393.6,2389.4 1395.5,2391.7 1397.5,2393.9 1399.6,2396.1 1401.6,2398.3 1403.7,2400.5 1405.7,2402.7 1407.8,2404.9 1409.8,2407.1 1411.9,2409.3 1413.8,2411.6 1415.8,2413.9 1417.7,2416.2 1419.5,2418.6 1421.2,2421.1 1422.9,2423.6 1424.5,2426.1 1426.0,2428.7 1427.4,2431.4 1428.8,2434.1 1430.1,2436.8 1431.4,2439.5 1432.6,2442.2 1433.8,2445.0 1434.9,2447.8 1436.0,2450.6 1437.0,2453.4 1438.1,2456.2 1439.1,2459.1 1440.1,2461.9 1441.1,2464.7 1442.0,2467.6 1443.0,2470.4 1443.9,2473.3 1444.8,2476.2 1445.7,2479.0 1446.5,2481.9 1447.4,2484.8 1448.2,2487.7 1449.0,2490.6 1449.9,2493.5 1450.6,2496.4 1451.4,2499.3 1452.2,2502.2 1453.0,2505.1 1453.7,2508.0 1454.4,2510.9 1455.2,2513.8 1455.9,2516.8 1456.6,2519.7 1457.3,2522.6 1458.0,2525.5 1458.7,2528.4 1459.4,2531.4 1460.0,2534.3 1460.7,2537.2 1461.4,2540.2 1462.0,2543.1 1462.7,2546.0 1463.4,2549.0 1464.0,2551.9 1464.7,2554.8 1465.3,2557.8 1466.0,2560.7 1466.7,2563.6 1467.3,2566.6 1468.0,2569.5 1468.6,2572.4 1469.3,2575.4 1470.0,2578.3 1470.7,2581.2 1471.3,2584.1 1472.0,2587.1 1472.7,2590.0 1473.4,2592.9 1474.1,2595.8 1474.8,2598.8 1475.6,2601.7 1476.3,2604.6 1477.0,2607.5 1477.8,2610.4 1478.6,2613.3 1479.3,2616.2 1480.1,2619.1 1480.9,2622.0 1481.8,2624.9 1482.6,2627.8 1483.4,2630.7 1484.3,2633.6 1485.2,2636.4 1486.1,2639.3 1487.0,2642.2 1487.9,2645.0 1488.9,2647.9 1489.8,2650.7 1490.8,2653.6 1491.8,2656.4 1492.9,2659.2 1493.9,2662.0 1495.0,2664.8 1496.1,2667.6 1497.2,2670.4 1498.4,2673.2 1499.6,2676.0 1500.8,2678.7 1502.0,2681.5 1503.2,2684.2 1504.5,2686.9 1505.8,2689.6 1507.1,2692.3 1508.5,2695.0 1509.9,2697.7 1511.3,2700.3 1512.7,2703.0 1514.2,2705.6 1515.7,2708.2 1517.3,2710.8 1518.8,2713.3 1520.4,2715.9 1522.0,2718.4 1523.7,2720.9 1525.4,2723.4 1527.1,2725.9 1528.8,2728.3 1530.6,2730.7 1532.4,2733.1 1534.3,2735.5 1536.1,2737.9 1538.1,2740.2 1540.0,2742.5 1541.9,2744.8 1543.9,2747.0 1546.0,2749.3 1548.0,2751.4 1550.1,2753.6 1552.2,2755.8" stroke="#515151"/>
<path d="M190.4,3257.3 193.4,3256.7 196.3,3256.0 199.2,3255.2 202.1,3254.5 205.0,3253.7 207.9,3252.9 210.8,3252.0 213.7,3251.1 216.5,3250.2 219.4,3249.3 222.2,3248.3 225.0,3247.3 227.9,3246.2 230.7,3245.1 233.5,3244.0 236.2,3242.9 239.0,3241.8 241.8,3240.6 244.5,3239.4 247.3,3238.1 250.0,3236.9 252.7,3235.6 255.4,3234.2 258.1,3232.9 260.8,3231.5 263.4,3230.2 266.1,3228.8 268.8,3227.3 271.4,3225.9 274.0,3224.4 276.6,3222.9 279.2,3221.4 281.8,3219.9 284.4,3218.4 287.0,3216.8 289.5,3215.2 292.1,3213.6 294.6,3212.0 297.1,3210.4 299.6,3208.7 302.2,3207.1 304.7,3205.4 307.1,3203.7 309.6,3202.0 312.1,3200.3 314.6,3198.6 317.0,3196.9 319.5,3195.1 321.9,3193.4 324.3,3191.6 326.8,3189.8 329.2,3188.1 331.6,3186.3 334.0,3184.5 336.4,3182.7 338.8,3180.8 341.2,3179.0 343.6,3177.2 345.9,3175.3 348.3,3173.5 350.7,3171.6 353.0,3169.7 355.4,3167.9 357.7,3166.0 360.0,3164.1 362.4,3162.2 364.7,3160.3 367.0,3158.4 369.3,3156.4 371.6,3154.5 373.9,3152.6 376.2,3150.6 378.5,3148.7 380.8,3146.7 383.0,3144.7 385.3,3142.8 387.6,3140.8 389.8,3138.8 392.0,3136.8 394.3,3134.8 396.5,3132.8 398.7,3130.7 401.0,3128.7 403.2,3126.7 405.4,3124.6 407.6,3122.6 409.8,3120.5 412.0,3118.5 414.2,3116.4 416.3,3114.3 418.5,3112.3 420.7,3110.2 422.8,3108.1 425.0,3106.0 427.1,3103.9 429.3,3101.8 431.4,3099.6 433.5,3097.5 435.6,3095.4 437.8,3093.3 439.9,3091.1 442.0,3089.0 444.1,3086.8 446.2,3084.7 448.2,3082.5 450.3,3080.3 452.4,3078.2 454.5,3076.0 456.5,3073.8 458.6,3071.6 460.6,3069.4 462.7,3067.2 464.7,3065.0 466.8,3062.8 468.8,3060.6 470.8,3058.3 472.8,3056.1 474.9,3053.9 476.9,3051.7 478.9,3049.4 480.9,3047.2 482.9,3044.9 484.8,3042.7 486.8,3040.4 488.8,3038.1 490.8,3035.9 492.7,3033.6 494.7,3031.3 496.7,3029.0 498.6,3026.7 500.6,3024.5 502.5,3022.2 504.4,3019.9 506.4,3017.6 508.3,3015.2 510.2,3012.9 512.1,3010.6 514.0,3008.3 515.9,3006.0 517.8,3003.6 519.7,3001.3 521.6,2999.0 523.5,2996.6 525.4,2994.3 527.3,2992.0 529.1,2989.6 531.0,2987.2 532.9,2984.9 534.7,2982.5 536.6,2980.2 538.5,2977.8 540.3,2975.4 542.1,2973.1 544.0,2970.7 545.8,2968.3 547.6,2965.9 549.5,2963.5 551.3,2961.1 553.1,2958.7 554.9,2956.3 556.7,2953.9 558.5,2951.5 560.3,2949.1 562.1,2946.7 563.9,2944.3 565.7,2941.9 567.5,2939.5 569.3,2937.1 571.1,2934.7 572.9,2932.2 574.6,2929.8 576.4,2927.4 578.2,2924.9 579.9,2922.5 581.7,2920.1 583.5,2917.6 585.2,2915.2 587.0,2912.7 588.7,2910.3 590.5,2907.9 592.2,2905.4 593.9,2903.0 595.7,2900.5 597.4,2898.0 599.1,2895.6 600.9,2893.1 602.6,2890.7 604.3,2888.2 606.1,2885.8 607.8,2883.3 609.5,2880.8 611.2,2878.4 613.0,2875.9 614.7,2873.4 616.4,2871.0 618.1,2868.5 619.8,2866.1 621.6,2863.6 623.3,2861.1 625.0,2858.7 626.7,2856.2 628.4,2853.7 630.2,2851.3 631.9,2848.8 633.6,2846.4 635.3,2843.9 637.1,2841.4 638.8,2839.0 640.5,2836.5 642.3,2834.1 644.0,2831.6 645.7,2829.2 647.5,2826.7 649.2,2824.3 651.0,2821.8 652.7,2819.4 654.5,2816.9 656.2,2814.5 658.0,2812.0 659.7,2809.6 661.5,2807.2 663.3,2804.7 665.0,2802.3 666.8,2799.9 668.6,2797.4 670.4,2795.0 672.1,2792.6 673.9,2790.2 675.7,2787.8 677.5,2785.4 679.3,2783.0 681.1,2780.6 682.9,2778.2 684.8,2775.8 686.6,2773.4 688.4,2771.0 690.2,2768.6 692.1,2766.2 693.9,2763.8 695.7,2761.4 697.6,2759.1 699.4,2756.7 701.2,2754.3 703.1,2751.9 704.9,2749.6 706.7,2747.2 708.6,2744.8 710.4,2742.4 712.3,2740.0 714.1,2737.7 715.9,2735.3 717.8,2732.9 719.6,2730.5 721.5,2728.2 723.3,2725.8 725.1,2723.4 727.0,2721.0 728.8,2718.6 730.6,2716.2 732.4,2713.8 734.2,2711.4 736.0,2709.0 737.7,2706.6 739.5,2704.1 741.2,2701.6 742.8,2699.1 744.4,2696.6 746.0,2694.0 747.6,2691.5 749.1,2688.9 750.6,2686.3 752.1,2683.7 753.6,2681.0 755.0,2678.4 756.5,2675.8 757.9,2673.1 759.3,2670.5 760.8,2667.8 762.2,2665.2 763.6,2662.6 765.1,2659.9 766.6,2657.3 768.0,2654.7 769.5,2652.1 771.1,2649.5 772.6,2646.9 774.2,2644.4 775.8,2641.8 777.4,2639.3 779.1,2636.8 780.7,2634.3 782.4,2631.8 784.1,2629.3 785.9,2626.9 787.6,2624.4 789.4,2622.0 791.1,2619.5 792.9,2617.1 794.7,2614.7 796.5,2612.3 798.4,2609.9 800.2,2607.5 802.0,2605.2 803.8,2602.8 805.7,2600.4 807.5,2598.0 809.4,2595.7 811.2,2593.3 813.1,2590.9 814.9,2588.5 816.7,2586.2 818.6,2583.8 820.4,2581.4 822.2,2579.0 824.0,2576.6 825.9,2574.2 827.7,2571.8 829.5,2569.4 831.3,2567.0 833.0,2564.6 834.8,2562.2 836.6,2559.7 838.4,2557.3 840.2,2554.9 841.9,2552.5 843.7,2550.0 845.5,2547.6 847.3,2545.2 849.0,2542.7 850.8,2540.3 852.6,2537.9 854.3,2535.4 856.1,2533.0 857.9,2530.6 859.6,2528.2 861.4,2525.7 863.2,2523.3 865.0,2520.9 866.8,2518.5 868.5,2516.1 870.3,2513.6 872.1,2511.2 873.9,2508.8 875.8,2506.4 877.6,2504.0 879.4,2501.6 881.2,2499.3 883.1,2496.9 884.9,2494.5 886.7,2492.1 888.6,2489.8 890.5,2487.4 892.3,2485.1 894.2,2482.7 896.1,2480.4 898.0,2478.1 900.0,2475.8 901.9,2473.5 903.8,2471.1 905.7,2468.8 907.7,2466.6 909.6,2464.3 911.6,2462.0 913.6,2459.7 915.5,2457.4 917.5,2455.2 919.5,2452.9 921.5,2450.7 923.5,2448.4 925.5,2446.2 927.5,2443.9 929.5,2441.7 931.5,2439.4 933.5,2437.2 935.5,2435.0 937.5,2432.7 939.5,2430.5 941.5,2428.3 943.5,2426.0 945.5,2423.8 947.6,2421.6 949.6,2419.3 951.6,2417.1 953.6,2414.9 955.6,2412.6 957.6,2410.4 959.6,2408.2 961.6,2405.9 963.6,2403.7 965.6,2401.5 967.6,2399.2 969.6,2397.0 971.6,2394.7 973.6,2392.5 975.6,2390.2 977.6,2387.9 979.5,2385.7 981.5,2383.4 983.5,2381.1 985.4,2378.8 987.4,2376.5 989.3,2374.2 991.2,2371.9 993.2,2369.6 995.1,2367.3 997.0,2365.0 998.9,2362.6 1000.8,2360.3 1002.6,2358.0 1004.5,2355.6 1006.4,2353.3 1008.2,2350.9 1010.1,2348.5 1011.9,2346.2 1013.8,2343.8 1015.6,2341.4 1017.5,2339.1 1019.4,2336.7 1021.2,2334.4 1023.1,2332.0 1025.0,2329.7 1026.9,2327.3 1028.8,2325.0 1030.8,2322.7 1032.7,2320.4 1034.7,2318.2 1036.7,2315.9 1038.7,2313.7 1040.7,2311.5 1042.8,2309.3 1044.8,2307.1 1046.9,2304.9 1049.0,2302.8 1051.2,2300.7 1053.3,2298.6 1055.5,2296.5 1057.7,2294.5 1059.9,2292.4 1062.1,2290.4 1064.4,2288.4 1066.6,2286.4 1068.9,2284.4 1071.2,2282.5 1073.5,2280.6 1075.8,2278.6 1078.1,2276.7 1080.5,2274.9 1082.8,2273.0 1085.2,2271.1 1087.6,2269.3 1090.0,2267.5 1092.4,2265.7 1094.8,2263.9 1097.2,2262.1 1099.6,2260.3 1102.1,2258.6 1104.5,2256.8 1107.0,2255.1 1109.4,2253.4 1111.9,2251.7 1114.4,2250.0 1116.9,2248.3 1119.4,2246.6 1121.9,2245.0 1124.4,2243.3 1126.9,2241.7 1129.4,2240.0 1132.0,2238.4 1134.5,2236.8 1137.1,2235.2 1139.6,2233.6 1142.2,2232.0 1144.7,2230.4 1147.3,2228.9 1149.8,2227.3 1152.4,2225.8 1155.0,2224.2 1157.6,2222.7 1160.2,2221.2 1162.8,2219.8 1165.5,2218.3 1168.1,2216.9 1170.8,2215.5 1173.4,2214.1 1176.1,2212.7 1178.8,2211.4 1181.5,2210.1 1184.2,2208.8 1187.0,2207.5 1189.7,2206.3 1192.5,2205.1 1195.2,2204.0 1198.0,2202.8 1200.8,2201.7 1203.6,2200.7 1206.5,2199.6 1209.3,2198.6 1212.1,2197.7 1215.0,2196.8 1217.9,2195.9 1220.8,2195.1 1223.7,2194.3 1226.6,2193.6 1229.5,2193.0 1232.5,2192.4 1235.5,2191.9 1238.4,2191.5 1241.4,2191.2 1244.4,2190.9 1247.4,2190.8 1250.4,2190.7 1253.4,2190.8 1256.4,2191.0 1259.4,2191.3 1262.4,2191.8 1265.3,2192.3 1268.3,2193.1 1271.1,2194.0 1273.9,2195.1 1276.7,2196.3 1279.3,2197.7 1281.9,2199.2 1284.4,2200.8 1286.9,2202.6 1289.3,2204.4 1291.7,2206.2 1294.0,2208.1 1296.3,2210.0 1298.6,2211.9 1301.0,2213.9 1303.3,2215.8 1305.6,2217.7 1308.0,2219.5 1310.4,2221.3 1312.8,2223.1 1315.2,2225.0 1317.6,2226.8 1320.0,2228.6 1322.3,2230.4 1324.7,2232.3 1327.0,2234.2 1329.2,2236.2 1331.4,2238.3 1333.6,2240.4 1335.7,2242.6 1337.7,2244.8 1339.6,2247.1 1341.6,2249.4 1343.4,2251.7 1345.2,2254.1 1347.0,2256.6 1348.7,2259.0 1350.4,2261.5 1352.1,2264.0 1353.9,2266.4 1355.7,2268.8 1357.6,2271.1 1359.7,2273.3 1361.9,2275.3 1364.3,2277.2 1366.7,2278.9 1369.3,2280.5 1371.9,2282.1 1374.5,2283.5 1377.2,2284.9 1379.9,2286.2 1382.6,2287.4 1385.4,2288.6 1388.2,2289.7 1391.0,2290.7 1393.8,2291.7 1396.7,2292.6 1399.6,2293.5 1402.4,2294.4 1405.3,2295.2 1408.2,2296.0 1411.1,2296.8 1414.1,2297.5 1417.0,2298.3 1419.9,2299.0 1422.8,2299.7 1425.7,2300.4 1428.7,2301.1 1431.6,2301.8 1434.5,2302.5 1437.4,2303.2 1440.3,2303.9 1443.2,2304.7 1446.2,2305.5 1449.1,2306.2 1451.9,2307.1 1454.8,2307.9 1457.7,2308.8 1460.6,2309.7 1463.4,2310.7 1466.2,2311.7 1469.0,2312.8 1471.8,2313.9 1474.6,2315.0 1477.4,2316.2 1480.1,2317.4 1482.9,2318.7 1485.6,2320.0 1488.3,2321.3 1490.9,2322.7 1493.6,2324.1 1496.2,2325.5 1498.9,2327.0 1501.5,2328.5 1504.1,2330.0 1506.6,2331.6 1509.2,2333.1 1511.7,2334.7 1514.3,2336.3 1516.8,2338.0 1519.3,2339.6 1521.8,2341.3 1524.3,2343.0 1526.8,2344.7 1529.2,2346.4 1531.7,2348.2 1534.1,2349.9 1536.6,2351.6 1539.0,2353.4 1541.4,2355.2 1543.9,2357.0 1546.3,2358.7 1548.7,2360.5 1551.1,2362.3 1553.5,2364.1 1555.9,2365.9 1558.4,2367.7 1560.8,2369.5 1563.2,2371.3 1565.6,2373.1 1568.0,2374.9 1570.4,2376.7 1572.8,2378.5 1575.2,2380.2 1577.6,2382.0 1580.1,2383.9 1582.5,2385.7 1584.8,2387.5 1587.2,2389.3 1589.6,2391.2 1592.0,2393.0 1594.3,2394.9 1596.7,2396.7 1599.0,2398.6 1601.3,2400.5 1603.6,2402.5 1605.9,2404.4 1608.2,2406.4 1610.5,2408.4 1612.7,2410.4 1614.9,2412.4 1617.1,2414.4 1619.3,2416.5 1621.4,2418.6 1623.6,2420.8 1625.6,2422.9 1627.7,2425.1 1629.7,2427.3 1631.7,2429.6 1633.7,2431.9 1635.6,2434.2 1637.4,2436.6 1639.2,2439.0 1641.0,2441.4 1642.7,2443.9 1644.4,2446.4 1646.0,2448.9 1647.6,2451.5 1649.1,2454.1 1650.5,2456.7 1651.9,2459.4 1653.2,2462.1 1654.4,2464.8 1655.5,2467.6 1656.6,2470.4 1657.7,2473.2 1658.7,2476.1 1659.6,2478.9 1660.5,2481.8 1661.3,2484.7 1662.1,2487.6 1662.8,2490.5 1663.5,2493.4 1664.2,2496.4 1664.8,2499.3 1665.4,2502.3 1665.9,2505.2 1666.4,2508.2 1666.9,2511.2 1667.4,2514.1 1667.8,2517.1 1668.2,2520.1 1668.6,2523.1 1669.0,2526.0 1669.3,2529.0 1669.7,2532.0 1670.0,2535.0 1670.4,2538.0 1670.7,2541.0 1671.0,2544.0 1671.3,2546.9 1671.6,2549.9 1671.9,2552.9 1672.1,2555.9 1672.4,2558.9 1672.7,2561.9 1672.9,2564.9 1673.2,2567.9 1673.4,2570.9 1673.7,2573.9 1673.9,2576.9 1674.1,2579.9 1674.3,2582.9 1674.5,2585.9 1674.7,2588.9 1674.9,2591.9 1675.1,2594.9 1675.3,2597.9 1675.5,2600.9 1675.6,2603.9 1675.8,2606.9 1675.9,2609.9 1676.1,2612.9 1676.2,2615.9 1676.4,2618.9 1676.5,2621.9 1676.6,2624.9 1676.7,2627.9 1676.8,2630.9 1677.0,2633.9 1677.1,2636.9 1677.1,2639.9 1677.2,2642.9 1677.3,2645.9 1677.4,2648.9 1677.5,2651.9 1677.5,2654.9 1677.6,2657.9 1677.7,2661.0 1677.7,2664.0 1677.8,2667.0 1677.8,2670.0 1677.9,2673.0 1677.9,2676.0 1678.0,2679.0 1678.0,2682.0 1678.0,2685.0 1678.1,2688.0 1678.1,2691.0 1678.1,2694.0 1678.2,2697.0 1678.2,2700.0 1678.2,2703.0 1678.2,2706.0 1678.2,2709.0 1678.3,2712.0 1678.3,2715.0 1678.3,2718.1 1678.3,2721.1 1678.3,2724.1 1678.4,2727.1 1678.4,2730.1 1678.4,2733.1 1678.4,2736.1 1678.4,2739.1 1678.5,2742.1 1678.5,2745.1 1678.5,2748.1 1678.5,2751.1 1678.6,2754.1 1678.6,2757.1 1678.6,2760.1 1678.7,2763.1 1678.7,2766.1 1678.7,2769.1 1678.8,2772.2 1678.8,2775.2 1678.9,2778.2 1678.9,2781.2 1679.0,2784.2 1679.0,2787.2 1679.1,2790.2 1679.1,2793.2 1679.2,2796.2 1679.3,2799.2 1679.4,2802.2 1679.4,2805.2 1679.5,2808.2 1679.6,2811.2 1679.7,2814.2 1679.8,2817.2 1679.9,2820.2 1680.0,2823.2 1680.2,2826.2 1680.3,2829.2 1680.4,2832.2 1680.6,2835.2 1680.7,2838.2 1680.9,2841.3 1681.0,2844.3 1681.2,2847.3 1681.4,2850.3 1681.5,2853.3 1681.7,2856.3 1681.9,2859.3 1682.1,2862.3 1682.3,2865.2 1682.6,2868.2 1682.8,2871.2 1683.0,2874.2 1683.3,2877.2 1683.5,2880.2 1683.8,2883.2 1684.1,2886.2 1684.4,2889.2 1684.7,2892.2 1685.0,2895.2 1685.3,2898.2 1685.6,2901.2 1686.0,2904.2 1686.3,2907.1 1686.7,2910.1 1687.0,2913.1 1687.4,2916.1 1687.8,2919.1 1688.2,2922.0 1688.6,2925.0 1689.1,2928.0 1689.5,2931.0 1690.0,2933.9 1690.4,2936.9 1690.9,2939.9 1691.4,2942.8 1691.9,2945.8 1692.4,2948.8 1693.0,2951.7 1693.5,2954.7 1694.1,2957.6 1694.7,2960.6 1695.2,2963.5 1695.8,2966.5 1696.5,2969.4 1697.1,2972.4 1697.7,2975.3 1698.4,2978.2 1699.1,2981.1 1699.8,2984.1 1700.5,2987.0 1701.2,2989.9 1701.9,2992.8 1702.7,2995.7 1703.5,2998.6 1704.2,3001.5 1705.0,3004.4" stroke="#F14040"/>
<path d="M191.5,3262.7 194.5,3262.5 197.5,3262.3 200.5,3262.1 203.5,3261.8 206.5,3261.5 209.5,3261.2 212.4,3260.8 215.4,3260.4 218.4,3260.0 221.4,3259.6 224.3,3259.1 227.3,3258.6 230.2,3258.0 233.2,3257.5 236.1,3256.9 239.1,3256.2 242.0,3255.6 244.9,3254.9 247.8,3254.2 250.8,3253.4 253.7,3252.6 256.5,3251.8 259.4,3251.0 262.3,3250.1 265.2,3249.2 268.0,3248.3 270.9,3247.4 273.7,3246.4 276.6,3245.4 279.4,3244.4 282.2,3243.3 285.0,3242.2 287.8,3241.1 290.6,3240.0 293.4,3238.8 296.1,3237.6 298.9,3236.4 301.6,3235.2 304.3,3233.9 307.1,3232.7 309.8,3231.4 312.5,3230.0 315.1,3228.7 317.8,3227.3 320.5,3225.9 323.1,3224.5 325.8,3223.1 328.4,3221.6 331.0,3220.1 333.6,3218.6 336.2,3217.1 338.8,3215.6 341.4,3214.0 343.9,3212.4 346.5,3210.8 349.0,3209.2 351.5,3207.6 354.0,3205.9 356.5,3204.3 359.0,3202.6 361.5,3200.9 363.9,3199.2 366.4,3197.4 368.8,3195.7 371.3,3193.9 373.7,3192.1 376.1,3190.3 378.5,3188.5 380.9,3186.7 383.3,3184.9 385.6,3183.0 388.0,3181.2 390.3,3179.3 392.7,3177.4 395.0,3175.5 397.3,3173.6 399.6,3171.6 401.9,3169.7 404.2,3167.7 406.4,3165.8 408.7,3163.8 410.9,3161.8 413.2,3159.8 415.4,3157.8 417.6,3155.8 419.9,3153.7 422.1,3151.7 424.3,3149.6 426.4,3147.6 428.6,3145.5 430.8,3143.4 432.9,3141.3 435.1,3139.2 437.2,3137.1 439.4,3135.0 441.5,3132.9 443.6,3130.7 445.7,3128.6 447.8,3126.5 449.9,3124.3 452.0,3122.1 454.1,3120.0 456.2,3117.8 458.2,3115.6 460.3,3113.4 462.3,3111.2 464.4,3109.0 466.4,3106.8 468.4,3104.6 470.4,3102.4 472.5,3100.1 474.5,3097.9 476.5,3095.7 478.5,3093.4 480.5,3091.2 482.5,3088.9 484.4,3086.7 486.4,3084.4 488.4,3082.1 490.3,3079.8 492.3,3077.6 494.2,3075.3 496.2,3073.0 498.1,3070.7 500.0,3068.4 502.0,3066.1 503.9,3063.8 505.8,3061.5 507.7,3059.1 509.6,3056.8 511.5,3054.5 513.4,3052.1 515.3,3049.8 517.2,3047.5 519.0,3045.1 520.9,3042.8 522.8,3040.4 524.6,3038.0 526.5,3035.7 528.3,3033.3 530.1,3030.9 532.0,3028.5 533.8,3026.1 535.6,3023.7 537.4,3021.4 539.2,3019.0 541.0,3016.6 542.8,3014.1 544.6,3011.7 546.4,3009.3 548.2,3006.9 550.0,3004.5 551.7,3002.0 553.5,2999.6 555.3,2997.2 557.0,2994.7 558.8,2992.3 560.5,2989.8 562.2,2987.4 564.0,2984.9 565.7,2982.5 567.4,2980.0 569.1,2977.5 570.8,2975.1 572.5,2972.6 574.2,2970.1 575.9,2967.6 577.6,2965.2 579.3,2962.7 581.0,2960.2 582.7,2957.7 584.3,2955.2 586.0,2952.7 587.6,2950.2 589.3,2947.7 590.9,2945.1 592.6,2942.6 594.2,2940.1 595.9,2937.6 597.5,2935.1 599.1,2932.5 600.7,2930.0 602.3,2927.5 604.0,2924.9 605.6,2922.4 607.2,2919.9 608.8,2917.3 610.3,2914.8 611.9,2912.2 613.5,2909.7 615.1,2907.1 616.7,2904.5 618.2,2902.0 619.8,2899.4 621.4,2896.8 622.9,2894.3 624.5,2891.7 626.0,2889.1 627.6,2886.5 629.1,2884.0 630.6,2881.4 632.2,2878.8 633.7,2876.2 635.2,2873.6 636.7,2871.0 638.3,2868.4 639.8,2865.8 641.3,2863.2 642.8,2860.6 644.3,2858.0 645.8,2855.4 647.3,2852.8 648.8,2850.2 650.3,2847.6 651.7,2845.0 653.2,2842.4 654.7,2839.8 656.2,2837.2 657.7,2834.5 659.1,2831.9 660.6,2829.3 662.1,2826.7 663.5,2824.1 665.0,2821.4 666.4,2818.8 667.9,2816.2 669.3,2813.5 670.8,2810.9 672.2,2808.3 673.7,2805.6 675.1,2803.0 676.6,2800.4 678.0,2797.7 679.4,2795.1 680.9,2792.4 682.3,2789.8 683.7,2787.2 685.1,2784.5 686.6,2781.9 688.0,2779.2 689.4,2776.6 690.8,2773.9 692.2,2771.3 693.6,2768.6 695.1,2766.0 696.5,2763.3 697.9,2760.7 699.3,2758.0 700.7,2755.3 702.1,2752.7 703.5,2750.0 704.9,2747.4 706.3,2744.7 707.7,2742.1 709.1,2739.4 710.5,2736.7 711.9,2734.1 713.3,2731.4 714.7,2728.8 716.1,2726.1 717.5,2723.4 718.8,2720.8 720.2,2718.1 721.6,2715.4 723.0,2712.8 724.4,2710.1 725.8,2707.4 727.2,2704.8 728.5,2702.1 729.9,2699.4 731.3,2696.8 732.7,2694.1 734.1,2691.4 735.4,2688.8 736.8,2686.1 738.2,2683.4 739.6,2680.7 740.9,2678.1 742.3,2675.4 743.7,2672.7 745.1,2670.1 746.4,2667.4 747.8,2664.7 749.2,2662.0 750.5,2659.4 751.9,2656.7 753.3,2654.0 754.7,2651.3 756.0,2648.7 757.4,2646.0 758.7,2643.3 760.1,2640.6 761.5,2638.0 762.8,2635.3 764.2,2632.6 765.6,2629.9 766.9,2627.2 768.3,2624.6 769.6,2621.9 771.0,2619.2 772.4,2616.5 773.7,2613.8 775.1,2611.2 776.4,2608.5 777.8,2605.8 779.1,2603.1 780.5,2600.4 781.8,2597.7 783.2,2595.1 784.5,2592.4 785.9,2589.7 787.3,2587.0 788.6,2584.3 790.0,2581.6 791.3,2579.0 792.7,2576.3 794.0,2573.6 795.3,2570.9 796.7,2568.2 798.0,2565.5 799.4,2562.9 800.7,2560.2 802.1,2557.5 803.4,2554.8 804.8,2552.1 806.1,2549.4 807.5,2546.7 808.8,2544.1 810.2,2541.4 811.5,2538.7 812.8,2536.0 814.2,2533.3 815.5,2530.6 816.9,2527.9 818.2,2525.2 819.6,2522.6 820.9,2519.9 822.2,2517.2 823.6,2514.5 824.9,2511.8 826.3,2509.1 827.6,2506.4 829.0,2503.7 830.3,2501.0 831.6,2498.4 833.0,2495.7 834.3,2493.0 835.7,2490.3 837.0,2487.6 838.3,2484.9 839.7,2482.2 841.0,2479.5 842.4,2476.8 843.7,2474.2 845.0,2471.5 846.4,2468.8 847.7,2466.1 849.1,2463.4 850.4,2460.7 851.7,2458.0 853.1,2455.3 854.4,2452.6 855.8,2450.0 857.1,2447.3 858.4,2444.6 859.8,2441.9 861.1,2439.2 862.5,2436.5 863.8,2433.8 865.1,2431.1 866.5,2428.4 867.8,2425.8 869.2,2423.1 870.5,2420.4 871.8,2417.7 873.2,2415.0 874.5,2412.3 875.9,2409.6 877.2,2406.9 878.6,2404.2 879.9,2401.6 881.2,2398.9 882.6,2396.2 883.9,2393.5 885.3,2390.8 886.6,2388.1 888.0,2385.4 889.3,2382.7 890.6,2380.1 892.0,2377.4 893.3,2374.7 894.7,2372.0 896.0,2369.3 897.4,2366.6 898.7,2363.9 900.1,2361.3 901.4,2358.6 902.8,2355.9 904.1,2353.2 905.5,2350.5 906.8,2347.8 908.2,2345.2 909.5,2342.5 910.9,2339.8 912.2,2337.1 913.6,2334.4 914.9,2331.7 916.3,2329.1 917.6,2326.4 919.0,2323.7 920.4,2321.0 921.7,2318.4 923.1,2315.7 924.5,2313.0 925.9,2310.3 927.2,2307.7 928.6,2305.0 930.0,2302.3 931.4,2299.7 932.8,2297.0 934.2,2294.3 935.5,2291.7 936.9,2289.0 938.3,2286.4 939.8,2283.7 941.2,2281.0 942.6,2278.4 944.0,2275.7 945.4,2273.1 946.9,2270.5 948.3,2267.8 949.7,2265.2 951.2,2262.5 952.6,2259.9 954.1,2257.3 955.5,2254.7 957.0,2252.0 958.5,2249.4 959.9,2246.8 961.4,2244.2 962.9,2241.6 964.4,2239.0 965.9,2236.4 967.4,2233.8 968.9,2231.2 970.5,2228.6 972.0,2226.0 973.5,2223.4 975.1,2220.8 976.6,2218.3 978.2,2215.7 979.7,2213.1 981.3,2210.6 982.9,2208.0 984.5,2205.5 986.1,2202.9 987.7,2200.4 989.3,2197.8 990.9,2195.3 992.5,2192.8 994.2,2190.3 995.8,2187.7 997.5,2185.2 999.1,2182.7 1000.8,2180.2 1002.5,2177.8 1004.2,2175.3 1005.9,2172.8 1007.6,2170.3 1009.3,2167.9 1011.0,2165.4 1012.8,2163.0 1014.5,2160.5 1016.3,2158.1 1018.1,2155.7 1019.8,2153.2 1021.6,2150.8 1023.4,2148.4 1025.3,2146.0 1027.1,2143.6 1028.9,2141.3 1030.8,2138.9 1032.6,2136.5 1034.5,2134.2 1036.3,2131.8 1038.2,2129.5 1040.1,2127.1 1042.0,2124.8 1044.0,2122.5 1045.9,2120.2 1047.8,2117.9 1049.8,2115.6 1051.8,2113.4 1053.7,2111.1 1055.7,2108.8 1057.7,2106.6 1059.7,2104.4 1061.7,2102.1 1063.8,2099.9 1065.8,2097.7 1067.9,2095.5 1069.9,2093.4 1072.0,2091.2 1074.1,2089.0 1076.2,2086.9 1078.3,2084.7 1080.4,2082.6 1082.6,2080.5 1084.7,2078.4 1086.9,2076.3 1089.0,2074.2 1091.2,2072.2 1093.4,2070.1 1095.6,2068.1 1097.8,2066.0 1100.1,2064.0 1102.3,2062.0 1104.5,2060.0 1106.8,2058.0 1109.1,2056.1 1111.4,2054.1 1113.6,2052.2 1116.0,2050.2 1118.3,2048.3 1120.6,2046.4 1123.0,2044.6 1125.3,2042.7 1127.7,2040.9 1130.1,2039.1 1132.5,2037.3 1135.0,2035.6 1137.5,2033.9 1139.9,2032.2 1142.5,2030.5 1145.0,2028.9 1147.6,2027.4 1150.1,2025.8 1152.8,2024.3 1155.4,2022.9 1158.1,2021.5 1160.8,2020.2 1163.5,2018.9 1166.2,2017.7 1169.0,2016.5 1171.8,2015.4 1174.6,2014.4 1177.4,2013.4 1180.3,2012.5 1183.2,2011.6 1186.1,2010.9 1189.0,2010.2 1191.9,2009.5 1194.9,2009.0 1197.9,2008.5 1200.8,2008.0 1203.8,2007.7 1206.8,2007.4 1209.8,2007.1 1212.8,2007.0 1215.8,2006.9 1218.8,2006.9 1221.8,2006.9 1224.8,2007.0 1227.8,2007.2 1230.8,2007.5 1233.8,2007.8 1236.8,2008.2 1239.7,2008.7 1242.7,2009.2 1245.6,2009.9 1248.5,2010.6 1251.4,2011.4 1254.3,2012.2 1257.2,2013.2 1260.0,2014.2 1262.8,2015.3 1265.6,2016.4 1268.3,2017.7 1271.0,2019.0 1273.6,2020.5 1276.2,2022.0 1278.8,2023.5 1281.3,2025.2 1283.7,2027.0 1286.1,2028.8 1288.4,2030.7 1290.7,2032.7 1292.9,2034.7 1295.0,2036.9 1297.1,2039.1 1299.0,2041.3 1300.9,2043.7 1302.7,2046.1 1304.5,2048.5 1306.1,2051.0 1307.6,2053.6 1309.1,2056.2 1310.5,2058.9 1311.8,2061.6 1313.1,2064.3 1314.3,2067.1 1315.5,2069.8 1316.8,2072.5 1318.0,2075.3 1319.2,2078.0 1320.5,2080.7 1321.9,2083.4 1323.3,2086.1 1324.8,2088.7 1326.3,2091.3 1327.9,2093.8 1329.5,2096.4 1331.1,2098.9 1332.9,2101.3 1334.6,2103.8 1336.4,2106.2 1338.2,2108.6 1340.1,2110.9 1342.0,2113.3 1343.9,2115.6 1345.9,2117.8 1347.8,2120.1 1349.8,2122.4 1351.9,2124.6 1353.9,2126.8 1355.9,2129.0 1358.0,2131.2 1360.0,2133.4 1362.1,2135.6 1364.2,2137.7 1366.3,2139.9 1368.4,2142.0 1370.5,2144.2 1372.5,2146.4 1374.6,2148.5 1376.7,2150.7 1378.8,2152.9 1380.8,2155.1 1382.9,2157.2 1385.0,2159.4 1387.0,2161.7 1389.0,2163.9 1391.0,2166.1 1393.1,2168.3 1395.1,2170.6 1397.0,2172.8 1399.0,2175.1 1401.0,2177.4 1402.9,2179.6 1404.9,2181.9 1406.8,2184.2 1408.7,2186.6 1410.6,2188.9 1412.5,2191.2 1414.3,2193.6 1416.2,2196.0 1418.0,2198.4 1419.8,2200.8 1421.6,2203.2 1423.3,2205.6 1425.1,2208.1 1426.8,2210.5 1428.5,2213.0 1430.2,2215.5 1431.8,2218.0 1433.4,2220.6 1435.0,2223.1 1436.6,2225.7 1438.1,2228.3 1439.6,2230.8 1441.1,2233.5 1442.6,2236.1 1444.0,2238.7 1445.4,2241.4 1446.7,2244.1 1448.1,2246.8 1449.3,2249.5 1450.6,2252.2 1451.8,2255.0 1453.0,2257.7 1454.1,2260.5 1455.3,2263.3 1456.3,2266.1 1457.4,2268.9 1458.4,2271.7 1459.4,2274.6 1460.4,2277.4 1461.4,2280.3 1462.3,2283.1 1463.3,2286.0 1464.2,2288.8 1465.0,2291.7 1465.9,2294.6 1466.8,2297.5 1467.6,2300.4 1468.4,2303.2 1469.2,2306.1 1470.0,2309.0 1470.8,2311.9 1471.6,2314.8 1472.4,2317.7 1473.2,2320.6 1474.0,2323.5 1474.7,2326.4 1475.5,2329.3 1476.3,2332.2 1477.1,2335.1 1477.8,2338.0 1478.6,2340.9 1479.4,2343.8 1480.2,2346.7 1481.0,2349.6 1481.8,2352.5 1482.7,2355.4 1483.5,2358.3 1484.3,2361.2 1485.1,2364.1 1485.9,2367.0 1486.7,2369.9 1487.5,2372.8 1488.2,2375.7 1488.9,2378.6 1489.6,2381.5 1490.2,2384.5 1490.8,2387.4 1491.4,2390.4 1491.9,2393.3 1492.4,2396.3 1492.8,2399.3 1493.2,2402.3 1493.6,2405.2 1493.9,2408.2 1494.2,2411.2 1494.5,2414.2 1494.8,2417.2 1495.0,2420.2 1495.2,2423.2 1495.4,2426.2 1495.5,2429.2 1495.7,2432.2 1495.8,2435.2 1495.9,2438.2 1496.0,2441.2 1496.1,2444.2 1496.1,2447.2 1496.2,2450.2 1496.2,2453.2 1496.2,2456.2 1496.3,2459.2 1496.3,2462.2 1496.3,2465.2 1496.3,2468.2 1496.3,2471.2 1496.3,2474.2 1496.2,2477.2 1496.2,2480.3 1496.2,2483.3 1496.2,2486.3 1496.2,2489.3 1496.2,2492.3 1496.2,2495.3 1496.2,2498.3 1496.2,2501.3 1496.2,2504.3 1496.2,2507.3 1496.2,2510.3 1496.2,2513.3 1496.2,2516.3 1496.2,2519.3 1496.2,2522.3 1496.2,2525.3 1496.2,2528.3 1496.2,2531.3 1496.2,2534.3 1496.2,2537.3 1496.2,2540.3 1496.2,2543.3 1496.2,2546.4 1496.2,2549.4 1496.2,2552.4 1496.2,2555.4 1496.2,2558.4 1496.2,2561.4 1496.2,2564.4 1496.2,2567.4 1496.2,2570.4 1496.3,2573.4 1496.3,2576.4 1496.3,2579.4 1496.3,2582.4 1496.3,2585.4 1496.3,2588.4 1496.3,2591.4 1496.3,2594.4 1496.3,2597.4 1496.3,2600.4 1496.4,2603.4 1496.4,2606.4 1496.4,2609.4 1496.4,2612.5 1496.4,2615.5 1496.4,2618.5 1496.4,2621.5 1496.4,2624.5 1496.5,2627.5 1496.5,2630.5 1496.5,2633.5 1496.5,2636.5 1496.5,2639.5 1496.5,2642.5 1496.6,2645.5 1496.6,2648.5 1496.6,2651.5 1496.6,2654.5 1496.6,2657.5 1496.6,2660.5 1496.7,2663.5 1496.7,2666.5 1496.7,2669.5 1496.7,2672.5 1496.7,2675.5 1496.8,2678.5 1496.8,2681.6 1496.8,2684.6 1496.8,2687.6 1496.8,2690.6 1496.9,2693.6 1496.9,2696.6 1496.9,2699.6 1496.9,2702.6 1497.0,2705.6 1497.0,2708.6 1497.0,2711.6 1497.0,2714.6 1497.0,2717.6 1497.1,2720.6 1497.1,2723.6 1497.1,2726.6 1497.1,2729.6 1497.2,2732.6 1497.2,2735.6 1497.2,2738.6 1497.2,2741.6 1497.3,2744.6 1497.3,2747.6 1497.3,2750.7 1497.3,2753.7 1497.4,2756.7 1497.4,2759.7 1497.4,2762.7 1497.5,2765.7 1497.5,2768.7 1497.5,2771.7 1497.5,2774.7 1497.6,2777.7 1497.6,2780.7 1497.6,2783.7 1497.6,2786.7 1497.7,2789.7 1497.7,2792.7 1497.7,2795.7 1497.8,2798.7 1497.8,2801.7 1497.8,2804.7 1497.8,2807.7 1497.9,2810.7 1497.9,2813.7 1497.9,2816.7 1498.0,2819.8 1498.0,2822.8 1498.0,2825.8 1498.0,2828.8 1498.1,2831.8 1498.1,2834.8 1498.1,2837.8 1498.2,2840.8 1498.2,2843.8 1498.2,2846.8 1498.2,2849.8 1498.3,2852.8 1498.3,2855.8 1498.3,2858.8 1498.4,2861.8 1498.4,2864.8 1498.4,2867.8 1498.5,2870.8 1498.5,2873.8 1498.5,2876.8 1498.5,2879.8 1498.6,2882.8 1498.6,2885.8 1498.6,2888.9 1498.7,2891.9 1498.7,2894.9 1498.7,2897.9 1498.7,2900.9 1498.8,2903.9 1498.8,2906.9 1498.8,2909.9 1498.9,2912.9 1498.9,2915.9 1498.9,2918.9 1499.0,2921.9 1499.0,2924.9 1499.0,2927.9 1499.0,2930.9 1499.1,2933.9 1499.1,2936.9 1499.1,2939.9 1499.2,2942.9 1499.2,2945.9 1499.2,2948.9 1499.2,2951.9 1499.3,2954.9 1499.3,2958.0 1499.3,2961.0 1499.4,2964.0 1499.4,2967.0 1499.4,2970.0 1499.4,2973.0 1499.5,2976.0 1499.5,2979.0 1499.5,2982.0 1499.5,2985.0 1499.6,2988.0 1499.6,2991.0 1499.6,2994.0 1499.6,2997.0 1499.7,3000.0 1499.7,3003.0 1499.7,3006.0 1499.7,3009.0 1499.8,3012.0 1499.8,3015.0 1499.8,3018.0 1499.8,3021.0 1499.9,3024.1 1499.9,3027.1 1499.9,3030.1" stroke="#1A6FDF"/>
<path d="M190.5,3260.5 193.5,3260.1 196.5,3259.5 199.4,3259.0 202.4,3258.4 205.3,3257.8 208.2,3257.2 211.2,3256.6 214.1,3255.9 217.0,3255.2 219.9,3254.4 222.8,3253.7 225.7,3252.9 228.6,3252.1 231.5,3251.2 234.4,3250.4 237.3,3249.5 240.1,3248.5 243.0,3247.6 245.8,3246.6 248.7,3245.6 251.5,3244.6 254.3,3243.6 257.1,3242.5 259.9,3241.4 262.7,3240.3 265.5,3239.2 268.3,3238.1 271.1,3236.9 273.8,3235.7 276.6,3234.5 279.3,3233.3 282.0,3232.0 284.8,3230.8 287.5,3229.5 290.2,3228.2 292.9,3226.9 295.6,3225.5 298.3,3224.2 300.9,3222.8 303.6,3221.4 306.3,3220.0 308.9,3218.6 311.6,3217.2 314.2,3215.8 316.8,3214.3 319.5,3212.8 322.1,3211.3 324.7,3209.9 327.3,3208.3 329.9,3206.8 332.5,3205.3 335.0,3203.8 337.6,3202.2 340.2,3200.6 342.7,3199.1 345.3,3197.5 347.8,3195.9 350.4,3194.3 352.9,3192.7 355.4,3191.0 358.0,3189.4 360.5,3187.8 363.0,3186.1 365.5,3184.5 368.0,3182.8 370.5,3181.2 373.0,3179.5 375.5,3177.8 378.0,3176.1 380.5,3174.4 383.0,3172.7 385.4,3171.0 387.9,3169.3 390.4,3167.6 392.8,3165.9 395.3,3164.2 397.8,3162.4 400.2,3160.7 402.7,3159.0 405.1,3157.2 407.5,3155.5 410.0,3153.7 412.4,3151.9 414.8,3150.1 417.3,3148.4 419.7,3146.6 422.1,3144.8 424.5,3143.0 426.9,3141.2 429.3,3139.3 431.7,3137.5 434.0,3135.7 436.4,3133.8 438.8,3132.0 441.1,3130.1 443.5,3128.3 445.8,3126.4 448.2,3124.5 450.5,3122.6 452.8,3120.7 455.1,3118.8 457.4,3116.9 459.7,3114.9 462.0,3113.0 464.3,3111.0 466.6,3109.1 468.9,3107.1 471.1,3105.1 473.4,3103.1 475.6,3101.1 477.8,3099.1 480.1,3097.1 482.3,3095.0 484.5,3093.0 486.7,3090.9 488.8,3088.9 491.0,3086.8 493.2,3084.7 495.3,3082.6 497.4,3080.5 499.6,3078.3 501.7,3076.2 503.8,3074.1 505.9,3071.9 508.0,3069.8 510.1,3067.6 512.1,3065.4 514.2,3063.2 516.2,3061.0 518.3,3058.8 520.3,3056.6 522.4,3054.4 524.4,3052.2 526.4,3050.0 528.4,3047.7 530.4,3045.5 532.4,3043.2 534.4,3041.0 536.4,3038.7 538.4,3036.5 540.4,3034.2 542.3,3032.0 544.3,3029.7 546.3,3027.4 548.3,3025.2 550.2,3022.9 552.2,3020.6 554.1,3018.3 556.1,3016.1 558.1,3013.8 560.0,3011.5 562.0,3009.2 563.9,3006.9 565.9,3004.7 567.8,3002.4 569.8,3000.1 571.8,2997.8 573.7,2995.5 575.7,2993.2 577.6,2991.0 579.6,2988.7 581.5,2986.4 583.5,2984.1 585.4,2981.8 587.4,2979.5 589.3,2977.2 591.2,2974.9 593.2,2972.6 595.1,2970.3 597.1,2968.0 599.0,2965.7 600.9,2963.4 602.8,2961.1 604.8,2958.8 606.7,2956.5 608.6,2954.2 610.5,2951.9 612.4,2949.6 614.3,2947.2 616.2,2944.9 618.1,2942.6 620.0,2940.2 621.9,2937.9 623.8,2935.5 625.6,2933.2 627.5,2930.8 629.4,2928.5 631.2,2926.1 633.1,2923.8 634.9,2921.4 636.8,2919.0 638.6,2916.6 640.4,2914.2 642.2,2911.8 644.0,2909.4 645.8,2907.0 647.6,2904.6 649.4,2902.2 651.2,2899.8 653.0,2897.4 654.7,2894.9 656.5,2892.5 658.2,2890.0 660.0,2887.6 661.7,2885.1 663.4,2882.7 665.2,2880.2 666.9,2877.7 668.6,2875.3 670.3,2872.8 671.9,2870.3 673.6,2867.8 675.3,2865.3 677.0,2862.8 678.6,2860.3 680.3,2857.8 681.9,2855.3 683.5,2852.7 685.2,2850.2 686.8,2847.7 688.4,2845.2 690.0,2842.6 691.6,2840.1 693.2,2837.5 694.8,2835.0 696.4,2832.4 698.0,2829.9 699.5,2827.3 701.1,2824.7 702.7,2822.2 704.2,2819.6 705.8,2817.0 707.3,2814.5 708.9,2811.9 710.4,2809.3 711.9,2806.7 713.4,2804.1 714.9,2801.5 716.5,2798.9 718.0,2796.3 719.5,2793.7 721.0,2791.1 722.5,2788.5 723.9,2785.9 725.4,2783.3 726.9,2780.7 728.4,2778.0 729.9,2775.4 731.3,2772.8 732.8,2770.2 734.2,2767.5 735.7,2764.9 737.1,2762.3 738.6,2759.6 740.0,2757.0 741.5,2754.4 742.9,2751.7 744.3,2749.1 745.8,2746.5 747.2,2743.8 748.6,2741.2 750.0,2738.5 751.5,2735.9 752.9,2733.2 754.3,2730.6 755.7,2727.9 757.1,2725.2 758.5,2722.6 759.9,2719.9 761.3,2717.3 762.7,2714.6 764.1,2712.0 765.5,2709.3 766.9,2706.6 768.3,2704.0 769.7,2701.3 771.1,2698.6 772.4,2696.0 773.8,2693.3 775.2,2690.6 776.6,2688.0 778.0,2685.3 779.4,2682.6 780.7,2680.0 782.1,2677.3 783.5,2674.6 784.9,2672.0 786.3,2669.3 787.7,2666.6 789.1,2664.0 790.5,2661.3 791.8,2658.6 793.2,2656.0 794.6,2653.3 796.0,2650.7 797.4,2648.0 798.8,2645.3 800.2,2642.7 801.6,2640.0 803.1,2637.4 804.5,2634.7 805.9,2632.1 807.3,2629.4 808.7,2626.8 810.2,2624.1 811.6,2621.5 813.0,2618.9 814.5,2616.2 815.9,2613.6 817.4,2611.0 818.8,2608.3 820.3,2605.7 821.8,2603.1 823.2,2600.5 824.7,2597.8 826.2,2595.2 827.7,2592.6 829.2,2590.0 830.7,2587.4 832.2,2584.8 833.7,2582.2 835.2,2579.6 836.8,2577.0 838.3,2574.5 839.8,2571.9 841.4,2569.3 842.9,2566.7 844.5,2564.2 846.1,2561.6 847.6,2559.0 849.2,2556.5 850.8,2553.9 852.4,2551.4 854.0,2548.8 855.6,2546.3 857.2,2543.8 858.8,2541.2 860.4,2538.7 862.0,2536.2 863.7,2533.6 865.3,2531.1 867.0,2528.6 868.6,2526.1 870.2,2523.6 871.9,2521.1 873.6,2518.6 875.2,2516.1 876.9,2513.6 878.6,2511.1 880.3,2508.6 881.9,2506.1 883.6,2503.6 885.3,2501.1 887.0,2498.6 888.7,2496.2 890.4,2493.7 892.1,2491.2 893.9,2488.8 895.6,2486.3 897.3,2483.8 899.0,2481.4 900.8,2478.9 902.5,2476.5 904.3,2474.0 906.0,2471.6 907.8,2469.1 909.5,2466.7 911.3,2464.3 913.0,2461.8 914.8,2459.4 916.6,2457.0 918.4,2454.6 920.2,2452.2 922.0,2449.8 923.8,2447.4 925.6,2445.0 927.4,2442.6 929.2,2440.2 931.1,2437.8 932.9,2435.4 934.8,2433.0 936.6,2430.7 938.5,2428.3 940.3,2426.0 942.2,2423.6 944.1,2421.3 946.0,2418.9 947.9,2416.6 949.8,2414.3 951.7,2411.9 953.6,2409.6 955.5,2407.3 957.4,2405.0 959.4,2402.7 961.3,2400.4 963.3,2398.1 965.2,2395.9 967.2,2393.6 969.2,2391.3 971.2,2389.1 973.1,2386.8 975.2,2384.6 977.2,2382.4 979.2,2380.1 981.2,2377.9 983.2,2375.7 985.3,2373.5 987.3,2371.3 989.4,2369.1 991.5,2366.9 993.6,2364.8 995.6,2362.6 997.7,2360.5 999.8,2358.3 1002.0,2356.2 1004.1,2354.1 1006.2,2351.9 1008.4,2349.8 1010.5,2347.7 1012.7,2345.6 1014.8,2343.5 1017.0,2341.5 1019.2,2339.4 1021.3,2337.3 1023.5,2335.2 1025.7,2333.2 1027.9,2331.1 1030.1,2329.1 1032.3,2327.0 1034.5,2325.0 1036.7,2323.0 1038.9,2320.9 1041.2,2318.9 1043.4,2316.9 1045.6,2314.9 1047.8,2312.8 1050.0,2310.8 1052.3,2308.8 1054.5,2306.8 1056.7,2304.8 1059.0,2302.8 1061.2,2300.7 1063.4,2298.7 1065.7,2296.7 1067.9,2294.7 1070.1,2292.7 1072.3,2290.7 1074.6,2288.7 1076.8,2286.7 1079.0,2284.7 1081.3,2282.7 1083.5,2280.7 1085.8,2278.7 1088.1,2276.7 1090.4,2274.8 1092.7,2272.9 1095.1,2271.0 1097.4,2269.2 1099.8,2267.3 1102.2,2265.6 1104.7,2263.8 1107.2,2262.1 1109.7,2260.5 1112.2,2258.9 1114.8,2257.3 1117.4,2255.8 1120.0,2254.4 1122.7,2253.0 1125.4,2251.7 1128.1,2250.4 1130.8,2249.1 1133.6,2247.9 1136.4,2246.8 1139.2,2245.6 1142.0,2244.6 1144.8,2243.5 1147.6,2242.5 1150.4,2241.5 1153.3,2240.5 1156.1,2239.6 1159.0,2238.6 1161.8,2237.7 1164.7,2236.8 1167.6,2236.0 1170.5,2235.1 1173.4,2234.3 1176.3,2233.5 1179.2,2232.7 1182.1,2232.0 1185.0,2231.2 1187.9,2230.5 1190.8,2229.9 1193.8,2229.2 1196.7,2228.6 1199.7,2228.1 1202.6,2227.5 1205.6,2227.0 1208.6,2226.6 1211.5,2226.2 1214.5,2225.8 1217.5,2225.5 1220.5,2225.3 1223.5,2225.1 1226.5,2224.9 1229.5,2224.8 1232.5,2224.8 1235.5,2224.8 1238.5,2224.9 1241.5,2225.1 1244.5,2225.3 1247.5,2225.6 1250.5,2226.0 1253.5,2226.4 1256.4,2227.0 1259.4,2227.6 1262.3,2228.3 1265.2,2229.2 1268.0,2230.1 1270.9,2231.1 1273.7,2232.1 1276.4,2233.3 1279.2,2234.6 1281.9,2235.9 1284.5,2237.3 1287.1,2238.8 1289.7,2240.3 1292.3,2241.9 1294.8,2243.6 1297.2,2245.3 1299.7,2247.0 1302.1,2248.8 1304.5,2250.6 1306.8,2252.5 1309.1,2254.4 1311.4,2256.4 1313.7,2258.3 1315.9,2260.3 1318.2,2262.4 1320.4,2264.4 1322.5,2266.5 1324.7,2268.6 1326.8,2270.7 1329.0,2272.8 1331.1,2275.0 1333.2,2277.1 1335.3,2279.3 1337.3,2281.4 1339.4,2283.6 1341.4,2285.8 1343.5,2288.0 1345.5,2290.3 1347.5,2292.5 1349.5,2294.7 1351.5,2297.0 1353.4,2299.3 1355.4,2301.6 1357.3,2303.9 1359.2,2306.2 1361.1,2308.6 1362.9,2310.9 1364.8,2313.3 1366.6,2315.7 1368.4,2318.1 1370.2,2320.5 1371.9,2322.9 1373.7,2325.4 1375.5,2327.8 1377.2,2330.3 1378.9,2332.7 1380.6,2335.2 1382.3,2337.7 1384.0,2340.2 1385.7,2342.6 1387.4,2345.1 1389.1,2347.6 1390.8,2350.1 1392.4,2352.6 1394.1,2355.1 1395.8,2357.6 1397.4,2360.1 1399.0,2362.7 1400.7,2365.2 1402.3,2367.7 1403.9,2370.2 1405.5,2372.8 1407.2,2375.3 1408.8,2377.8 1410.4,2380.4 1412.0,2382.9 1413.6,2385.5 1415.2,2388.0 1416.7,2390.6 1418.3,2393.1 1419.9,2395.7 1421.5,2398.3 1423.0,2400.8 1424.6,2403.4 1426.2,2405.9 1427.7,2408.5 1429.3,2411.1 1430.8,2413.7 1432.4,2416.2 1433.9,2418.8 1435.5,2421.4 1437.0,2424.0 1438.6,2426.5 1440.1,2429.1 1441.6,2431.7 1443.2,2434.3 1444.7,2436.9 1446.2,2439.5 1447.8,2442.0 1449.3,2444.6 1450.8,2447.2 1452.4,2449.8 1453.9,2452.4 1455.4,2455.0 1457.0,2457.6 1458.5,2460.1 1460.0,2462.7 1461.6,2465.3 1463.1,2467.9 1464.6,2470.5 1466.2,2473.1 1467.7,2475.6 1469.2,2478.2 1470.8,2480.8 1472.3,2483.4 1473.9,2486.0 1475.4,2488.5 1476.9,2491.1 1478.5,2493.7 1480.0,2496.3 1481.6,2498.8 1483.2,2501.4 1484.7,2504.0 1486.3,2506.5 1487.8,2509.1 1489.4,2511.7 1491.0,2514.2 1492.6,2516.8 1494.1,2519.3 1495.7,2521.9 1497.3,2524.4 1498.9,2527.0 1500.5,2529.5 1502.1,2532.1 1503.7,2534.6 1505.3,2537.1 1507.0,2539.7 1508.6,2542.2 1510.2,2544.7 1511.9,2547.2 1513.5,2549.8 1515.2,2552.3 1516.8,2554.8 1518.5,2557.3 1520.2,2559.8 1521.9,2562.3 1523.5,2564.7 1525.2,2567.2 1527.0,2569.7 1528.7,2572.2 1530.4,2574.6 1532.1,2577.1 1533.9,2579.5 1535.6,2582.0 1537.4,2584.4 1539.1,2586.8 1540.9,2589.3 1542.7,2591.7 1544.5,2594.1 1546.3,2596.5 1548.1,2598.9 1549.9,2601.3 1551.8,2603.6 1553.6,2606.0 1555.5,2608.4 1557.4,2610.7 1559.2,2613.1 1561.1,2615.4 1563.0,2617.7 1564.9,2620.1 1566.9,2622.4 1568.8,2624.7 1570.8,2626.9 1572.7,2629.2 1574.7,2631.5 1576.7,2633.7 1578.7,2636.0 1580.7,2638.2 1582.7,2640.4 1584.7,2642.7 1586.8,2644.8 1588.9,2647.0 1590.9,2649.2 1593.0,2651.4 1595.1,2653.5 1597.2,2655.6 1599.4,2657.8 1601.5,2659.9 1603.7,2662.0 1605.8,2664.1 1608.0,2666.1 1610.2,2668.2 1612.4,2670.2 1614.6,2672.2 1616.9,2674.2 1619.1,2676.2 1621.4,2678.2 1623.7,2680.2 1626.0,2682.1 1628.3,2684.0 1630.6,2685.9 1632.9,2687.8 1635.3,2689.7 1637.6,2691.6 1640.0,2693.4 1642.4,2695.2" stroke="#37AD6B"/>
</g>
<g font-family="&quot;Liberation Serif&quot;, &quot;Times New Roman&quot;, serif" font-size="84" fill="#000"><text x="192.8" y="3360.0" text-anchor="middle">0</text><text x="385.6" y="3360.0" text-anchor="middle">20</text><text x="580.4" y="3360.0" text-anchor="middle">40</text><text x="774.2" y="3360.0" text-anchor="middle">60</text><text x="970.7" y="3360.0" text-anchor="middle">80</text><text x="1164.3" y="3360.0" text-anchor="middle">100</text><text x="1358.9" y="3360.0" text-anchor="middle">120</text><text x="1553.6" y="3360.0" text-anchor="middle">140</text><text x="1749.0" y="3360.0" text-anchor="middle">160</text><text x="1943.2" y="3360.0" text-anchor="middle">180</text><text x="159.5" y="3290.8" text-anchor="end">0</text><text x="159.5" y="3034.5" text-anchor="end">1</text><text x="159.5" y="2778.2" text-anchor="end">2</text><text x="159.5" y="2521.9" text-anchor="end">3</text><text x="159.5" y="2265.6" text-anchor="end">4</text><text x="159.5" y="2009.3" text-anchor="end">5</text></g>
<text transform="translate(86.2 2697.3) rotate(-90) scale(1.34 1)" font-family="&quot;Liberation Serif&quot;, &quot;Times New Roman&quot;, serif" font-size="84" font-style="italic">σ</text>
<text transform="translate(83.7 2632.3) rotate(-90)" font-family="&quot;Liberation Serif&quot;, &quot;Times New Roman&quot;, serif" font-size="84">(MPa)</text>
<text transform="translate(978.2 3504.0) scale(1.29 1)" font-family="&quot;Liberation Serif&quot;, &quot;Times New Roman&quot;, serif" font-size="84" font-style="italic">ε</text>
<text x="1031.9" y="3504.0" font-family="&quot;Liberation Serif&quot;, &quot;Times New Roman&quot;, serif" font-size="84">(%)</text>
<text x="1004.5" y="3634.0" text-anchor="middle" font-family="&quot;Liberation Serif&quot;, &quot;Times New Roman&quot;, serif" font-size="87">(<tspan font-weight="bold">d</tspan>)</text>
<rect x="285.4" y="1906.5" width="352" height="337" fill="#000"/>
<rect x="278.4" y="1899.5" width="352" height="337" fill="#fff" stroke="#000" stroke-width="2"/>
<line x1="287.4" y1="1946.5" x2="435.4" y2="1946.5" stroke="#515151" stroke-width="8"/>
<circle cx="287.4" cy="1946.5" r="4" fill="#515151"/>
<text x="451.0" y="1968.4" font-family="&quot;Liberation Serif&quot;, &quot;Times New Roman&quot;, serif" font-size="67" font-style="italic">n</text>
<text transform="translate(482.9 1968.4) scale(1.12 1)" font-family="&quot;Liberation Serif&quot;, &quot;Times New Roman&quot;, serif" font-size="67">=</text>
<text x="523.4" y="1968.4" font-family="&quot;Liberation Serif&quot;, &quot;Times New Roman&quot;, serif" font-size="67">0</text>
<line x1="287.4" y1="2028.3" x2="435.4" y2="2028.3" stroke="#F14040" stroke-width="8"/>
<circle cx="287.4" cy="2028.3" r="4" fill="#F14040"/>
<text x="451.0" y="2050.2" font-family="&quot;Liberation Serif&quot;, &quot;Times New Roman&quot;, serif" font-size="67" font-style="italic">n</text>
<text transform="translate(482.9 2050.2) scale(1.12 1)" font-family="&quot;Liberation Serif&quot;, &quot;Times New Roman&quot;, serif" font-size="67">=</text>
<text x="523.4" y="2050.2" font-family="&quot;Liberation Serif&quot;, &quot;Times New Roman&quot;, serif" font-size="67">25</text>
<line x1="287.4" y1="2110.1" x2="435.4" y2="2110.1" stroke="#1A6FDF" stroke-width="8"/>
<circle cx="287.4" cy="2110.1" r="4" fill="#1A6FDF"/>
<text x="451.0" y="2132.0" font-family="&quot;Liberation Serif&quot;, &quot;Times New Roman&quot;, serif" font-size="67" font-style="italic">n</text>
<text transform="translate(482.9 2132.0) scale(1.12 1)" font-family="&quot;Liberation Serif&quot;, &quot;Times New Roman&quot;, serif" font-size="67">=</text>
<text x="523.4" y="2132.0" font-family="&quot;Liberation Serif&quot;, &quot;Times New Roman&quot;, serif" font-size="67">50</text>
<line x1="287.4" y1="2191.9" x2="435.4" y2="2191.9" stroke="#37AD6B" stroke-width="8"/>
<circle cx="287.4" cy="2191.9" r="4" fill="#37AD6B"/>
<text x="451.0" y="2213.8" font-family="&quot;Liberation Serif&quot;, &quot;Times New Roman&quot;, serif" font-size="67" font-style="italic">n</text>
<text transform="translate(482.9 2213.8) scale(1.12 1)" font-family="&quot;Liberation Serif&quot;, &quot;Times New Roman&quot;, serif" font-size="67">=</text>
<text x="523.4" y="2213.8" font-family="&quot;Liberation Serif&quot;, &quot;Times New Roman&quot;, serif" font-size="67">100</text>
</svg></body></html>
